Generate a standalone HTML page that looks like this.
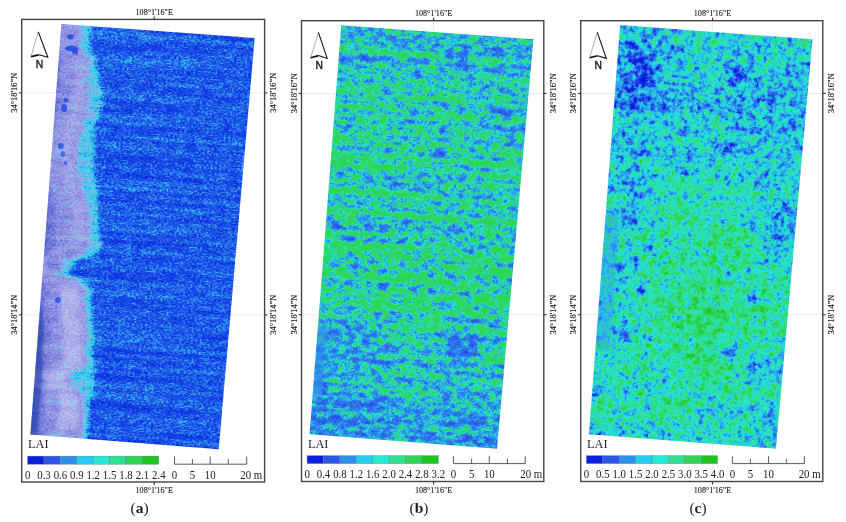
<!DOCTYPE html>
<html lang="en"><head><meta charset="utf-8"><title>LAI maps</title>
<style>html,body{margin:0;padding:0;background:#fff;}svg{display:block;}text{font-family:"Liberation Serif", "DejaVu Serif", serif;fill:#222;}.sans{font-family:"Liberation Sans", "DejaVu Sans", sans-serif;}</style>
</head><body>
<svg width="846" height="522" viewBox="0 0 846 522">
<rect width="846" height="522" fill="#fff"/>
<defs>
<clipPath id="clip_a"><polygon points="61.3,23.9 254.7,38.0 218.7,449.2 30.4,434.4"/></clipPath>
<clipPath id="clip_b"><polygon points="341.2,25.3 533.4,39.3 497.0,448.7 309.6,434.3"/></clipPath>
<clipPath id="clip_c"><polygon points="620.1,24.9 812.4,39.3 775.9,448.7 588.9,434.2"/></clipPath>
<filter id="f_a" filterUnits="userSpaceOnUse" x="-20" y="-20" width="250" height="460" color-interpolation-filters="sRGB"><feGaussianBlur in="SourceGraphic" stdDeviation="2.0" result="bias"/><feTurbulence type="fractalNoise" baseFrequency="0.006 0.20" numOctaves="1" seed="3" result="t0"/><feColorMatrix in="t0" type="matrix" values="1 0 0 0 0 1 0 0 0 0 1 0 0 0 0 0 0 0 0 1" result="n0"/><feComposite in="n0" in2="n0" operator="arithmetic" k1="0" k2="0.140" k3="0" k4="0.430" result="m0"/><feTurbulence type="fractalNoise" baseFrequency="0.09 0.16" numOctaves="2" seed="11" result="t1"/><feColorMatrix in="t1" type="matrix" values="1 0 0 0 0 1 0 0 0 0 1 0 0 0 0 0 0 0 0 1" result="n1"/><feComposite in="m0" in2="n1" operator="arithmetic" k1="0" k2="1" k3="0.110" k4="-0.055" result="m1"/><feTurbulence type="fractalNoise" baseFrequency="0.45 0.7" numOctaves="1" seed="5" result="t2"/><feColorMatrix in="t2" type="matrix" values="1 0 0 0 0 1 0 0 0 0 1 0 0 0 0 0 0 0 0 1" result="n2"/><feComposite in="m1" in2="n2" operator="arithmetic" k1="0" k2="1" k3="0.340" k4="-0.170" result="m2"/><feComposite in="bias" in2="m2" operator="arithmetic" k1="0" k2="1" k3="2" k4="-1" result="v"/><feColorMatrix in="v" type="matrix" values="1 0 0 0 0 1 0 0 0 0 1 0 0 0 0 0 0 0 0 1" result="vv"/><feComponentTransfer in="vv"><feFuncR type="table" tableValues="0.039 0.045 0.051 0.057 0.063 0.076 0.090 0.104 0.118 0.148 0.179 0.209 0.221 0.203 0.186 0.171 0.163 0.156 0.148 0.304 0.569 0.663 0.643 0.624 0.604 0.584 0.565 0.545 0.525 0.506 0.486 0.464 0.443 0.422 0.401 0.378 0.354 0.330 0.306 0.283 0.259"/><feFuncG type="table" tableValues="0.157 0.175 0.192 0.210 0.227 0.259 0.290 0.322 0.353 0.410 0.466 0.523 0.588 0.665 0.742 0.810 0.839 0.869 0.898 0.839 0.722 0.663 0.643 0.624 0.604 0.585 0.569 0.552 0.536 0.520 0.504 0.489 0.475 0.460 0.445 0.429 0.412 0.396 0.379 0.362 0.345"/><feFuncB type="table" tableValues="0.878 0.881 0.884 0.887 0.890 0.895 0.900 0.905 0.910 0.917 0.925 0.933 0.938 0.939 0.940 0.939 0.925 0.912 0.899 0.904 0.919 0.922 0.916 0.909 0.903 0.897 0.890 0.884 0.877 0.871 0.864 0.859 0.853 0.847 0.842 0.835 0.828 0.821 0.814 0.807 0.800"/></feComponentTransfer><feGaussianBlur stdDeviation="0.45"/></filter>
<filter id="f_b" filterUnits="userSpaceOnUse" x="-20" y="-20" width="250" height="460" color-interpolation-filters="sRGB"><feGaussianBlur in="SourceGraphic" stdDeviation="1.6" result="bias"/><feTurbulence type="fractalNoise" baseFrequency="0.008 0.17" numOctaves="1" seed="8" result="t0"/><feColorMatrix in="t0" type="matrix" values="1 0 0 0 0 1 0 0 0 0 1 0 0 0 0 0 0 0 0 1" result="n0"/><feComposite in="n0" in2="n0" operator="arithmetic" k1="0" k2="0.250" k3="0" k4="0.375" result="m0"/><feTurbulence type="fractalNoise" baseFrequency="0.07 0.12" numOctaves="1" seed="4" result="t1"/><feColorMatrix in="t1" type="matrix" values="1 0 0 0 0 1 0 0 0 0 1 0 0 0 0 0 0 0 0 1" result="n1"/><feComposite in="m0" in2="n1" operator="arithmetic" k1="0" k2="1" k3="0.250" k4="-0.125" result="m1"/><feTurbulence type="fractalNoise" baseFrequency="0.13 0.19" numOctaves="2" seed="21" result="t2"/><feColorMatrix in="t2" type="matrix" values="1 0 0 0 0 1 0 0 0 0 1 0 0 0 0 0 0 0 0 1" result="n2"/><feComposite in="m1" in2="n2" operator="arithmetic" k1="0" k2="1" k3="0.450" k4="-0.225" result="m2"/><feTurbulence type="fractalNoise" baseFrequency="0.5 0.65" numOctaves="1" seed="9" result="t3"/><feColorMatrix in="t3" type="matrix" values="1 0 0 0 0 1 0 0 0 0 1 0 0 0 0 0 0 0 0 1" result="n3"/><feComposite in="m2" in2="n3" operator="arithmetic" k1="0" k2="1" k3="0.425" k4="-0.212" result="m3"/><feComposite in="bias" in2="m3" operator="arithmetic" k1="0" k2="1" k3="2" k4="-1" result="v"/><feColorMatrix in="v" type="matrix" values="1 0 0 0 0 1 0 0 0 0 1 0 0 0 0 0 0 0 0 1" result="vv"/><feComponentTransfer in="vv"><feFuncR type="table" tableValues="0.149 0.154 0.158 0.163 0.167 0.172 0.176 0.177 0.178 0.178 0.179 0.180 0.180 0.180 0.180 0.180 0.180 0.161 0.141 0.137 0.143 0.156 0.174 0.188 0.186 0.183 0.181 0.180 0.179 0.179 0.178 0.178 0.177 0.177 0.176 0.175 0.175 0.174 0.174 0.173 0.173"/><feFuncG type="table" tableValues="0.298 0.315 0.332 0.349 0.366 0.383 0.400 0.417 0.434 0.451 0.468 0.485 0.502 0.529 0.557 0.584 0.612 0.692 0.772 0.836 0.889 0.902 0.889 0.876 0.867 0.857 0.847 0.843 0.842 0.842 0.841 0.840 0.840 0.839 0.839 0.838 0.838 0.837 0.836 0.836 0.835"/><feFuncB type="table" tableValues="0.906 0.907 0.908 0.910 0.911 0.912 0.914 0.915 0.916 0.918 0.919 0.920 0.922 0.924 0.925 0.927 0.929 0.934 0.939 0.909 0.856 0.767 0.652 0.550 0.494 0.439 0.383 0.360 0.358 0.356 0.354 0.351 0.349 0.347 0.345 0.343 0.341 0.339 0.337 0.335 0.333"/></feComponentTransfer><feGaussianBlur stdDeviation="0.45"/></filter>
<filter id="f_c" filterUnits="userSpaceOnUse" x="-20" y="-20" width="250" height="460" color-interpolation-filters="sRGB"><feGaussianBlur in="SourceGraphic" stdDeviation="2.5" result="bias"/><feTurbulence type="fractalNoise" baseFrequency="0.020 0.06" numOctaves="1" seed="14" result="t0"/><feColorMatrix in="t0" type="matrix" values="1 0 0 0 0 1 0 0 0 0 1 0 0 0 0 0 0 0 0 1" result="n0"/><feComposite in="n0" in2="n0" operator="arithmetic" k1="0" k2="0.200" k3="0" k4="0.400" result="m0"/><feTurbulence type="fractalNoise" baseFrequency="0.13 0.13" numOctaves="2" seed="2" result="t1"/><feColorMatrix in="t1" type="matrix" values="1 0 0 0 0 1 0 0 0 0 1 0 0 0 0 0 0 0 0 1" result="n1"/><feComposite in="m0" in2="n1" operator="arithmetic" k1="0" k2="1" k3="0.450" k4="-0.225" result="m1"/><feTurbulence type="fractalNoise" baseFrequency="0.3 0.3" numOctaves="1" seed="17" result="t2"/><feColorMatrix in="t2" type="matrix" values="1 0 0 0 0 1 0 0 0 0 1 0 0 0 0 0 0 0 0 1" result="n2"/><feComposite in="m1" in2="n2" operator="arithmetic" k1="0" k2="1" k3="0.350" k4="-0.175" result="m2"/><feTurbulence type="fractalNoise" baseFrequency="0.8 0.8" numOctaves="1" seed="7" result="t3"/><feColorMatrix in="t3" type="matrix" values="1 0 0 0 0 1 0 0 0 0 1 0 0 0 0 0 0 0 0 1" result="n3"/><feComposite in="m2" in2="n3" operator="arithmetic" k1="0" k2="1" k3="0.350" k4="-0.175" result="m3"/><feComposite in="bias" in2="m3" operator="arithmetic" k1="0" k2="1" k3="2" k4="-1" result="v"/><feColorMatrix in="v" type="matrix" values="1 0 0 0 0 1 0 0 0 0 1 0 0 0 0 0 0 0 0 1" result="vv"/><feComponentTransfer in="vv"><feFuncR type="table" tableValues="0.039 0.039 0.067 0.101 0.135 0.170 0.177 0.178 0.178 0.179 0.180 0.178 0.168 0.157 0.146 0.135 0.136 0.139 0.142 0.145 0.151 0.159 0.167 0.174 0.182 0.188 0.188 0.188 0.188 0.188 0.188 0.188 0.182 0.174 0.166 0.158 0.150 0.142 0.134 0.126 0.118"/><feFuncG type="table" tableValues="0.118 0.118 0.161 0.215 0.269 0.323 0.366 0.406 0.447 0.488 0.528 0.572 0.627 0.682 0.738 0.793 0.825 0.852 0.878 0.905 0.905 0.900 0.894 0.889 0.883 0.877 0.870 0.864 0.857 0.850 0.843 0.837 0.829 0.822 0.814 0.807 0.799 0.791 0.784 0.776 0.769"/><feFuncB type="table" tableValues="0.878 0.878 0.885 0.893 0.900 0.908 0.911 0.914 0.916 0.918 0.920 0.922 0.927 0.931 0.936 0.940 0.920 0.894 0.867 0.841 0.796 0.747 0.698 0.649 0.600 0.554 0.520 0.487 0.453 0.419 0.386 0.352 0.324 0.299 0.273 0.247 0.221 0.195 0.169 0.143 0.118"/></feComponentTransfer><feGaussianBlur stdDeviation="0.45"/></filter>
<filter id="blur_g" filterUnits="userSpaceOnUse" x="-40" y="-40" width="290" height="500" color-interpolation-filters="sRGB"><feGaussianBlur stdDeviation="10"/></filter>
<filter id="soft"><feGaussianBlur stdDeviation="1.2"/></filter>
<filter id="soft2" x="-30%" y="-30%" width="160%" height="160%"><feGaussianBlur stdDeviation="0.7"/></filter>
<filter id="soft3" x="-30%" y="-10%" width="160%" height="120%"><feGaussianBlur stdDeviation="2.5"/></filter>
</defs>
<g stroke="#bdbdbd" stroke-opacity="0.30" stroke-width="0.7"><line x1="154.2" y1="19.4" x2="154.2" y2="482.0"/><line x1="21.7" y1="92.9" x2="264.6" y2="92.9"/><line x1="21.7" y1="314.9" x2="264.6" y2="314.9"/></g>
<g stroke="#bdbdbd" stroke-opacity="0.30" stroke-width="0.7"><line x1="433.6" y1="20.7" x2="433.6" y2="481.5"/><line x1="301.5" y1="93.4" x2="543.8" y2="93.4"/><line x1="301.5" y1="314.7" x2="543.8" y2="314.7"/></g>
<g stroke="#bdbdbd" stroke-opacity="0.30" stroke-width="0.7"><line x1="712.5" y1="20.7" x2="712.5" y2="481.5"/><line x1="580.7" y1="93.4" x2="822.8" y2="93.4"/><line x1="580.7" y1="314.7" x2="822.8" y2="314.7"/></g>
<g clip-path="url(#clip_a)"><g transform="matrix(0.9969 0.0727 -0.0752 0.9988 61.30 23.90)"><g filter="url(#f_a)"><rect x="-20" y="-20" width="250" height="460" fill="rgb(46,46,46)"/><polygon points="-62.2,-9.4 28.3,-6.0 31.2,5.8 26.6,11.2 30.0,15.9 29.4,22.0 35.0,28.6 36.8,39.5 40.5,48.2 43.0,58.0 45.7,67.9 47.4,77.7 43.7,88.0 41.5,98.2 40.1,108.3 41.6,123.2 43.5,135.1 43.7,148.1 47.8,162.8 48.6,172.8 50.7,187.6 51.8,202.6 57.5,217.2 53.2,224.5 46.6,229.0 31.4,234.1 25.4,249.6 42.1,253.3 47.6,259.0 50.6,272.8 53.1,292.6 55.2,307.5 56.4,322.4 57.6,338.3 59.3,344.2 58.2,357.3 57.8,362.3 56.9,372.4 56.7,387.5 56.4,402.5 56.9,412.5 -29.2,428.7" fill="rgb(115,115,115)"/><polygon points="-62.2,-9.4 18.4,-5.2 21.3,6.6 16.6,11.9 20.0,16.7 19.5,22.7 30.0,29.0 31.8,39.8 30.5,48.9 32.2,58.8 32.0,68.9 33.7,78.7 32.5,88.8 30.2,99.0 26.0,109.3 24.1,124.5 26.0,136.4 30.0,149.1 34.1,163.8 39.9,173.4 42.0,188.3 43.1,203.2 45.2,218.1 40.8,225.4 34.1,229.9 19.4,235.0 18.6,250.1 35.9,253.8 41.3,259.4 44.4,273.2 46.9,293.0 49.0,307.9 50.1,322.8 51.3,338.8 36.8,345.8 35.8,358.9 46.1,363.2 50.9,372.9 51.0,387.9 51.1,402.9 51.9,412.8 -29.2,428.7" fill="rgb(163,163,163)"/><polygon points="-62.2,-9.4 -8.2,-3.3 -5.7,8.5 -10.5,13.9 -7.3,18.7 -8.0,24.7 2.3,31.0 3.8,41.9 2.2,51.0 3.6,60.9 3.0,71.0 4.5,80.9 2.9,91.0 0.3,101.2 -4.2,111.5 -6.6,126.7 -5.0,138.6 -1.5,151.4 2.2,166.1 7.6,175.8 9.2,190.7 9.9,205.6 11.5,220.5 6.8,227.9 0.0,232.4 -14.8,237.5 -16.1,252.6 1.1,256.3 6.3,262.0 8.9,275.8 10.8,295.7 12.4,310.6 13.1,325.5 13.8,341.5 -0.9,348.6 -2.4,361.7 7.8,366.0 12.3,375.7 11.9,390.7 11.6,405.8 12.0,415.7 -29.2,428.7" fill="rgb(204,204,204)"/><polygon points="-62.2,-9.4 -16.3,-2.7 -13.8,9.1 -18.6,14.5 -15.4,19.2 -16.2,25.3 -5.9,31.6 -4.5,42.5 -6.2,51.6 -4.8,61.5 -5.4,71.6 -4.0,81.5 -5.6,91.6 -8.2,101.8 -12.8,112.2 -15.2,127.4 -13.8,139.3 -10.3,152.0 -6.7,166.8 -1.3,176.4 0.3,191.3 0.8,206.3 2.4,221.2 -2.3,228.5 -9.1,233.0 -23.9,238.1 -25.3,253.2 -8.2,257.0 -3.0,262.6 -0.4,276.5 1.3,296.4 2.9,311.3 3.5,326.2 4.1,342.2 -10.6,349.3 -12.1,362.4 -1.9,366.7 2.5,376.4 2.0,391.4 1.6,406.5 2.0,416.5 -29.2,428.7" fill="rgb(235,235,235)"/><ellipse cx="15.8" cy="97.6" rx="4.5" ry="3.8" fill="rgb(140,140,140)" fill-opacity="0.70"/><ellipse cx="11.9" cy="248.8" rx="4.9" ry="3.7" fill="rgb(148,148,148)" fill-opacity="0.70"/><ellipse cx="24.5" cy="408.0" rx="6.3" ry="3.4" fill="rgb(148,148,148)" fill-opacity="0.70"/><ellipse cx="8.7" cy="95.7" rx="6.7" ry="3.2" fill="rgb(140,140,140)" fill-opacity="0.70"/><ellipse cx="8.1" cy="276.1" rx="6.0" ry="3.8" fill="rgb(191,191,191)" fill-opacity="0.70"/><ellipse cx="37.1" cy="318.6" rx="4.1" ry="3.8" fill="rgb(204,204,204)" fill-opacity="0.70"/><ellipse cx="38.0" cy="291.5" rx="4.6" ry="4.4" fill="rgb(204,204,204)" fill-opacity="0.70"/><ellipse cx="11.1" cy="396.1" rx="4.5" ry="2.1" fill="rgb(204,204,204)" fill-opacity="0.70"/><ellipse cx="25.7" cy="88.3" rx="4.7" ry="3.9" fill="rgb(191,191,191)" fill-opacity="0.70"/><ellipse cx="29.1" cy="171.9" rx="5.3" ry="3.6" fill="rgb(204,204,204)" fill-opacity="0.70"/><ellipse cx="11.2" cy="240.1" rx="5.7" ry="4.8" fill="rgb(191,191,191)" fill-opacity="0.70"/><ellipse cx="32.3" cy="405.5" rx="3.7" ry="4.6" fill="rgb(140,140,140)" fill-opacity="0.70"/><ellipse cx="13.3" cy="293.2" rx="6.3" ry="3.7" fill="rgb(191,191,191)" fill-opacity="0.70"/><ellipse cx="15.4" cy="51.1" rx="5.6" ry="3.5" fill="rgb(191,191,191)" fill-opacity="0.70"/><ellipse cx="21.7" cy="328.2" rx="3.6" ry="2.9" fill="rgb(204,204,204)" fill-opacity="0.70"/><ellipse cx="7.0" cy="358.9" rx="5.5" ry="2.1" fill="rgb(191,191,191)" fill-opacity="0.70"/><ellipse cx="32.5" cy="224.9" rx="4.1" ry="2.7" fill="rgb(140,140,140)" fill-opacity="0.70"/><ellipse cx="7.0" cy="127.7" rx="5.4" ry="2.1" fill="rgb(148,148,148)" fill-opacity="0.70"/><ellipse cx="17.3" cy="398.6" rx="4.1" ry="4.1" fill="rgb(191,191,191)" fill-opacity="0.70"/><ellipse cx="18.9" cy="128.6" rx="6.6" ry="3.1" fill="rgb(204,204,204)" fill-opacity="0.70"/><ellipse cx="15.1" cy="357.1" rx="6.5" ry="4.0" fill="rgb(140,140,140)" fill-opacity="0.70"/><ellipse cx="28.4" cy="253.6" rx="5.0" ry="3.3" fill="rgb(148,148,148)" fill-opacity="0.70"/><ellipse cx="22.9" cy="383.8" rx="4.0" ry="2.9" fill="rgb(191,191,191)" fill-opacity="0.70"/><ellipse cx="9.8" cy="5.1" rx="5.3" ry="2.1" fill="rgb(148,148,148)" fill-opacity="0.70"/><ellipse cx="17.0" cy="24.5" rx="4.9" ry="4.0" fill="rgb(191,191,191)" fill-opacity="0.70"/><ellipse cx="7.8" cy="250.5" rx="5.0" ry="3.8" fill="rgb(140,140,140)" fill-opacity="0.70"/><ellipse cx="15.6" cy="395.4" rx="4.8" ry="3.8" fill="rgb(191,191,191)" fill-opacity="0.70"/><ellipse cx="9.9" cy="73.2" rx="6.0" ry="4.5" fill="rgb(191,191,191)" fill-opacity="0.70"/><ellipse cx="10.5" cy="123.7" rx="6.1" ry="2.1" fill="rgb(148,148,148)" fill-opacity="0.70"/><ellipse cx="8.9" cy="127.7" rx="6.2" ry="2.7" fill="rgb(148,148,148)" fill-opacity="0.70"/><ellipse cx="27.8" cy="277.4" rx="3.4" ry="3.8" fill="rgb(191,191,191)" fill-opacity="0.70"/><ellipse cx="13.5" cy="277.2" rx="6.2" ry="4.9" fill="rgb(140,140,140)" fill-opacity="0.70"/><ellipse cx="17.1" cy="138.1" rx="6.5" ry="3.4" fill="rgb(148,148,148)" fill-opacity="0.70"/><ellipse cx="7.3" cy="323.6" rx="6.8" ry="2.9" fill="rgb(148,148,148)" fill-opacity="0.70"/><ellipse cx="13.9" cy="354.6" rx="6.3" ry="2.3" fill="rgb(191,191,191)" fill-opacity="0.70"/><ellipse cx="8.5" cy="242.5" rx="5.1" ry="4.5" fill="rgb(204,204,204)" fill-opacity="0.70"/><ellipse cx="13.3" cy="142.3" rx="4.7" ry="3.2" fill="rgb(204,204,204)" fill-opacity="0.70"/><ellipse cx="6.1" cy="64.7" rx="6.8" ry="4.6" fill="rgb(204,204,204)" fill-opacity="0.70"/><ellipse cx="27.7" cy="228.5" rx="5.9" ry="2.1" fill="rgb(204,204,204)" fill-opacity="0.70"/><ellipse cx="22.3" cy="342.9" rx="5.1" ry="2.9" fill="rgb(191,191,191)" fill-opacity="0.70"/></g></g><ellipse cx="70.5" cy="36.8" rx="3.2" ry="2.6" fill="rgb(25,70,229)" fill-opacity="0.8" filter="url(#soft2)"/><ellipse cx="71.5" cy="48.5" rx="6.5" ry="3.0" fill="rgb(25,70,229)" fill-opacity="0.8" filter="url(#soft2)"/><ellipse cx="66.0" cy="100.0" rx="2.6" ry="2.0" fill="rgb(25,70,229)" fill-opacity="0.8" filter="url(#soft2)"/><ellipse cx="64.0" cy="108.0" rx="3.0" ry="4.0" fill="rgb(25,70,229)" fill-opacity="0.8" filter="url(#soft2)"/><ellipse cx="61.0" cy="146.0" rx="3.0" ry="3.0" fill="rgb(25,70,229)" fill-opacity="0.8" filter="url(#soft2)"/><ellipse cx="63.0" cy="154.0" rx="2.2" ry="3.0" fill="rgb(25,70,229)" fill-opacity="0.8" filter="url(#soft2)"/><ellipse cx="65.5" cy="163.0" rx="2.0" ry="2.0" fill="rgb(25,70,229)" fill-opacity="0.8" filter="url(#soft2)"/><ellipse cx="58.0" cy="300.0" rx="3.0" ry="3.0" fill="rgb(25,70,229)" fill-opacity="0.8" filter="url(#soft2)"/><ellipse cx="75.0" cy="52.0" rx="3.0" ry="2.5" fill="rgb(25,70,229)" fill-opacity="0.8" filter="url(#soft2)"/><polygon points="78.0,286.0 80.0,300.0 81.0,320.0 82.0,335.0 82.0,350.0 82.0,366.0 67.0,372.0 65.0,385.0 75.0,390.0 79.0,400.0 78.0,415.0 77.0,430.0 58.0,430.0 59.0,415.0 60.0,400.0 56.0,390.0 46.0,385.0 48.0,372.0 63.0,366.0 63.0,350.0 63.0,335.0 62.0,320.0 61.0,300.0 59.0,286.0" fill="#fff" fill-opacity="0.28" filter="url(#soft3)"/><polygon points="85.0,55.0 86.0,66.0 84.0,75.0 85.0,85.0 84.0,95.0 85.0,105.0 83.0,115.0 80.0,125.0 75.0,135.0 72.0,150.0 73.0,162.0 76.0,175.0 79.0,190.0 84.0,200.0 85.0,215.0 85.0,230.0 86.0,245.0 74.0,245.0 73.0,230.0 73.0,215.0 72.0,200.0 67.0,190.0 64.0,175.0 61.0,162.0 60.0,150.0 63.0,135.0 68.0,125.0 71.0,115.0 73.0,105.0 72.0,95.0 73.0,85.0 72.0,75.0 74.0,66.0 73.0,55.0" fill="#fff" fill-opacity="0.14" filter="url(#soft3)"/><polygon points="41,300 43.5,330 42,380 37.5,436 28,436" fill="rgb(30,60,165)" fill-opacity="0.6" filter="url(#soft)"/></g>
<g clip-path="url(#clip_b)"><g transform="matrix(0.9907 0.0722 -0.0769 0.9951 341.20 25.30)"><g filter="url(#f_b)"><g filter="url(#blur_g)"><rect x="-40" y="-40" width="290" height="500" fill="rgb(112,112,112)"/><rect x="-30.0" y="-30.0" width="70.5" height="72.1" fill="rgb(112,112,112)"/><rect x="40.0" y="-30.0" width="40.5" height="72.1" fill="rgb(107,107,107)"/><rect x="80.0" y="-30.0" width="40.5" height="72.1" fill="rgb(107,107,107)"/><rect x="120.0" y="-30.0" width="40.5" height="72.1" fill="rgb(107,107,107)"/><rect x="160.0" y="-30.0" width="70.5" height="72.1" fill="rgb(107,107,107)"/><rect x="-30.0" y="41.6" width="70.5" height="42.1" fill="rgb(133,133,133)"/><rect x="40.0" y="41.6" width="40.5" height="42.1" fill="rgb(128,128,128)"/><rect x="80.0" y="41.6" width="40.5" height="42.1" fill="rgb(128,128,128)"/><rect x="120.0" y="41.6" width="40.5" height="42.1" fill="rgb(120,120,120)"/><rect x="160.0" y="41.6" width="70.5" height="42.1" fill="rgb(120,120,120)"/><rect x="-30.0" y="83.2" width="70.5" height="42.1" fill="rgb(140,140,140)"/><rect x="40.0" y="83.2" width="40.5" height="42.1" fill="rgb(135,135,135)"/><rect x="80.0" y="83.2" width="40.5" height="42.1" fill="rgb(128,128,128)"/><rect x="120.0" y="83.2" width="40.5" height="42.1" fill="rgb(128,128,128)"/><rect x="160.0" y="83.2" width="70.5" height="42.1" fill="rgb(117,117,117)"/><rect x="-30.0" y="124.8" width="70.5" height="42.1" fill="rgb(135,135,135)"/><rect x="40.0" y="124.8" width="40.5" height="42.1" fill="rgb(133,133,133)"/><rect x="80.0" y="124.8" width="40.5" height="42.1" fill="rgb(128,128,128)"/><rect x="120.0" y="124.8" width="40.5" height="42.1" fill="rgb(122,122,122)"/><rect x="160.0" y="124.8" width="70.5" height="42.1" fill="rgb(120,120,120)"/><rect x="-30.0" y="166.4" width="70.5" height="42.1" fill="rgb(128,128,128)"/><rect x="40.0" y="166.4" width="40.5" height="42.1" fill="rgb(128,128,128)"/><rect x="80.0" y="166.4" width="40.5" height="42.1" fill="rgb(128,128,128)"/><rect x="120.0" y="166.4" width="40.5" height="42.1" fill="rgb(128,128,128)"/><rect x="160.0" y="166.4" width="70.5" height="42.1" fill="rgb(128,128,128)"/><rect x="-30.0" y="208.0" width="70.5" height="42.1" fill="rgb(158,158,158)"/><rect x="40.0" y="208.0" width="40.5" height="42.1" fill="rgb(163,163,163)"/><rect x="80.0" y="208.0" width="40.5" height="42.1" fill="rgb(161,161,161)"/><rect x="120.0" y="208.0" width="40.5" height="42.1" fill="rgb(166,166,166)"/><rect x="160.0" y="208.0" width="70.5" height="42.1" fill="rgb(166,166,166)"/><rect x="-30.0" y="249.6" width="70.5" height="42.1" fill="rgb(148,148,148)"/><rect x="40.0" y="249.6" width="40.5" height="42.1" fill="rgb(158,158,158)"/><rect x="80.0" y="249.6" width="40.5" height="42.1" fill="rgb(163,163,163)"/><rect x="120.0" y="249.6" width="40.5" height="42.1" fill="rgb(168,168,168)"/><rect x="160.0" y="249.6" width="70.5" height="42.1" fill="rgb(163,163,163)"/><rect x="-30.0" y="291.2" width="70.5" height="42.1" fill="rgb(102,102,102)"/><rect x="40.0" y="291.2" width="40.5" height="42.1" fill="rgb(117,117,117)"/><rect x="80.0" y="291.2" width="40.5" height="42.1" fill="rgb(140,140,140)"/><rect x="120.0" y="291.2" width="40.5" height="42.1" fill="rgb(117,117,117)"/><rect x="160.0" y="291.2" width="70.5" height="42.1" fill="rgb(138,138,138)"/><rect x="-30.0" y="332.8" width="70.5" height="42.1" fill="rgb(94,94,94)"/><rect x="40.0" y="332.8" width="40.5" height="42.1" fill="rgb(107,107,107)"/><rect x="80.0" y="332.8" width="40.5" height="42.1" fill="rgb(125,125,125)"/><rect x="120.0" y="332.8" width="40.5" height="42.1" fill="rgb(112,112,112)"/><rect x="160.0" y="332.8" width="70.5" height="42.1" fill="rgb(120,120,120)"/><rect x="-30.0" y="374.4" width="70.5" height="72.1" fill="rgb(79,79,79)"/><rect x="40.0" y="374.4" width="40.5" height="72.1" fill="rgb(84,84,84)"/><rect x="80.0" y="374.4" width="40.5" height="72.1" fill="rgb(94,94,94)"/><rect x="120.0" y="374.4" width="40.5" height="72.1" fill="rgb(99,99,99)"/><rect x="160.0" y="374.4" width="70.5" height="72.1" fill="rgb(94,94,94)"/></g><rect x="-5.0" y="20.1" width="106.1" height="6.4" fill="#fff" fill-opacity="0.42"/><rect x="129.1" y="20.4" width="52.6" height="5.6" fill="#fff" fill-opacity="0.44"/><rect x="189.6" y="19.6" width="92.2" height="5.4" fill="#fff" fill-opacity="0.30"/><rect x="94.3" y="39.8" width="64.4" height="5.5" fill="#fff" fill-opacity="0.32"/><rect x="163.7" y="39.9" width="128.4" height="6.5" fill="#fff" fill-opacity="0.44"/><rect x="-5.0" y="63.9" width="136.5" height="4.5" fill="#fff" fill-opacity="0.45"/><rect x="-5.0" y="78.8" width="82.5" height="4.2" fill="#fff" fill-opacity="0.35"/><rect x="97.6" y="79.2" width="50.3" height="4.8" fill="#fff" fill-opacity="0.43"/><rect x="164.9" y="79.9" width="78.4" height="4.1" fill="#fff" fill-opacity="0.46"/><rect x="117.9" y="98.7" width="120.9" height="4.0" fill="#fff" fill-opacity="0.31"/><rect x="-5.0" y="112.0" width="136.0" height="6.3" fill="#fff" fill-opacity="0.45"/><rect x="144.6" y="112.1" width="81.9" height="4.3" fill="#fff" fill-opacity="0.42"/><rect x="-5.0" y="126.4" width="127.4" height="4.2" fill="#fff" fill-opacity="0.35"/><rect x="142.6" y="126.3" width="132.6" height="5.4" fill="#fff" fill-opacity="0.35"/><rect x="-5.0" y="135.8" width="66.0" height="5.7" fill="#fff" fill-opacity="0.46"/><rect x="142.7" y="136.7" width="86.5" height="6.1" fill="#fff" fill-opacity="0.37"/><rect x="-5.0" y="161.4" width="120.9" height="4.4" fill="#fff" fill-opacity="0.44"/><rect x="-5.0" y="182.5" width="137.8" height="5.8" fill="#fff" fill-opacity="0.38"/><rect x="145.1" y="182.3" width="86.3" height="6.5" fill="#fff" fill-opacity="0.45"/><rect x="6.0" y="194.8" width="8.4" height="7.3" fill="#000" fill-opacity="0.57"/><rect x="40.1" y="196.5" width="10.8" height="6.1" fill="#000" fill-opacity="0.53"/><rect x="54.6" y="196.8" width="10.5" height="5.9" fill="#000" fill-opacity="0.59"/><rect x="72.6" y="194.5" width="9.7" height="5.8" fill="#000" fill-opacity="0.52"/><rect x="120.9" y="196.7" width="11.1" height="6.1" fill="#000" fill-opacity="0.56"/><rect x="139.5" y="197.4" width="11.8" height="6.6" fill="#000" fill-opacity="0.48"/><rect x="172.7" y="196.6" width="10.6" height="7.2" fill="#000" fill-opacity="0.39"/><rect x="188.6" y="196.5" width="9.1" height="6.9" fill="#000" fill-opacity="0.54"/><rect x="20.6" y="210.3" width="10.3" height="5.7" fill="#000" fill-opacity="0.52"/><rect x="39.5" y="210.4" width="8.1" height="5.2" fill="#000" fill-opacity="0.38"/><rect x="54.8" y="209.6" width="7.2" height="6.4" fill="#000" fill-opacity="0.45"/><rect x="72.4" y="209.7" width="11.5" height="5.0" fill="#000" fill-opacity="0.45"/><rect x="87.6" y="209.3" width="11.2" height="6.1" fill="#000" fill-opacity="0.36"/><rect x="105.5" y="210.6" width="8.7" height="6.7" fill="#000" fill-opacity="0.59"/><rect x="122.8" y="211.4" width="10.2" height="6.1" fill="#000" fill-opacity="0.39"/><rect x="138.4" y="211.9" width="11.8" height="6.8" fill="#000" fill-opacity="0.44"/><rect x="156.1" y="209.3" width="9.8" height="6.8" fill="#000" fill-opacity="0.39"/><rect x="187.0" y="209.7" width="8.5" height="7.9" fill="#000" fill-opacity="0.44"/><rect x="22.9" y="226.4" width="9.5" height="6.2" fill="#000" fill-opacity="0.43"/><rect x="40.9" y="224.4" width="9.4" height="5.4" fill="#000" fill-opacity="0.51"/><rect x="55.3" y="225.8" width="11.1" height="5.0" fill="#000" fill-opacity="0.48"/><rect x="89.6" y="224.3" width="7.8" height="8.0" fill="#000" fill-opacity="0.42"/><rect x="105.4" y="225.4" width="10.0" height="7.2" fill="#000" fill-opacity="0.38"/><rect x="122.5" y="225.1" width="8.7" height="5.9" fill="#000" fill-opacity="0.48"/><rect x="137.9" y="225.7" width="10.0" height="5.1" fill="#000" fill-opacity="0.41"/><rect x="172.6" y="223.5" width="10.9" height="6.3" fill="#000" fill-opacity="0.49"/><rect x="188.3" y="224.9" width="11.6" height="6.2" fill="#000" fill-opacity="0.45"/><rect x="7.4" y="238.9" width="11.2" height="5.2" fill="#000" fill-opacity="0.56"/><rect x="23.3" y="238.9" width="10.9" height="7.7" fill="#000" fill-opacity="0.39"/><rect x="38.9" y="239.5" width="8.7" height="5.5" fill="#000" fill-opacity="0.50"/><rect x="56.7" y="238.7" width="11.1" height="7.4" fill="#000" fill-opacity="0.52"/><rect x="105.8" y="240.5" width="8.1" height="6.9" fill="#000" fill-opacity="0.59"/><rect x="122.3" y="238.9" width="11.6" height="5.4" fill="#000" fill-opacity="0.50"/><rect x="137.7" y="239.9" width="7.2" height="5.3" fill="#000" fill-opacity="0.44"/><rect x="152.8" y="239.7" width="10.7" height="7.6" fill="#000" fill-opacity="0.38"/><rect x="170.7" y="239.8" width="9.4" height="7.8" fill="#000" fill-opacity="0.44"/><rect x="185.7" y="238.5" width="10.2" height="6.5" fill="#000" fill-opacity="0.58"/><rect x="6.2" y="253.3" width="9.8" height="5.8" fill="#000" fill-opacity="0.54"/><rect x="22.6" y="253.2" width="8.9" height="7.2" fill="#000" fill-opacity="0.39"/><rect x="39.9" y="252.8" width="10.3" height="5.3" fill="#000" fill-opacity="0.38"/><rect x="55.9" y="255.1" width="9.4" height="6.0" fill="#000" fill-opacity="0.55"/><rect x="86.7" y="255.4" width="10.4" height="5.7" fill="#000" fill-opacity="0.38"/><rect x="106.9" y="255.0" width="7.7" height="6.9" fill="#000" fill-opacity="0.44"/><rect x="120.4" y="254.3" width="8.7" height="6.2" fill="#000" fill-opacity="0.38"/><rect x="139.3" y="254.9" width="9.2" height="7.6" fill="#000" fill-opacity="0.48"/><rect x="154.9" y="254.7" width="9.0" height="5.3" fill="#000" fill-opacity="0.36"/><rect x="169.8" y="255.2" width="9.4" height="7.3" fill="#000" fill-opacity="0.35"/><rect x="6.5" y="268.4" width="7.5" height="5.5" fill="#000" fill-opacity="0.39"/><rect x="22.0" y="269.6" width="7.8" height="5.8" fill="#000" fill-opacity="0.42"/><rect x="37.6" y="267.7" width="9.4" height="5.1" fill="#000" fill-opacity="0.58"/><rect x="72.8" y="268.4" width="11.7" height="5.4" fill="#000" fill-opacity="0.52"/><rect x="87.7" y="269.2" width="7.8" height="5.6" fill="#000" fill-opacity="0.36"/><rect x="103.9" y="268.2" width="11.9" height="6.1" fill="#000" fill-opacity="0.43"/><rect x="121.4" y="269.2" width="10.6" height="5.5" fill="#000" fill-opacity="0.41"/><rect x="155.1" y="269.9" width="7.0" height="5.2" fill="#000" fill-opacity="0.54"/><rect x="170.6" y="268.6" width="11.9" height="6.6" fill="#000" fill-opacity="0.44"/><rect x="185.9" y="269.7" width="9.5" height="7.8" fill="#000" fill-opacity="0.36"/><rect x="5.0" y="282.7" width="7.3" height="5.8" fill="#000" fill-opacity="0.45"/><rect x="21.7" y="281.6" width="11.9" height="5.5" fill="#000" fill-opacity="0.48"/><rect x="38.6" y="281.8" width="8.6" height="5.3" fill="#000" fill-opacity="0.49"/><rect x="57.2" y="284.1" width="8.1" height="5.1" fill="#000" fill-opacity="0.48"/><rect x="71.9" y="282.6" width="10.1" height="7.2" fill="#000" fill-opacity="0.58"/><rect x="87.7" y="284.0" width="8.1" height="5.3" fill="#000" fill-opacity="0.43"/><rect x="122.8" y="281.9" width="7.4" height="5.7" fill="#000" fill-opacity="0.37"/><rect x="137.7" y="282.2" width="7.3" height="7.1" fill="#000" fill-opacity="0.36"/><rect x="153.3" y="282.6" width="7.5" height="6.3" fill="#000" fill-opacity="0.43"/><rect x="172.0" y="284.2" width="10.3" height="7.3" fill="#000" fill-opacity="0.49"/><rect x="23.4" y="296.8" width="11.1" height="6.1" fill="#000" fill-opacity="0.38"/><rect x="37.3" y="296.8" width="10.4" height="5.9" fill="#000" fill-opacity="0.37"/><rect x="56.6" y="296.1" width="7.3" height="5.4" fill="#000" fill-opacity="0.44"/><rect x="88.9" y="297.3" width="8.8" height="6.0" fill="#000" fill-opacity="0.35"/><rect x="122.4" y="297.6" width="7.9" height="7.1" fill="#000" fill-opacity="0.46"/><rect x="153.0" y="298.7" width="9.3" height="6.3" fill="#000" fill-opacity="0.46"/><ellipse cx="20.3" cy="31.4" rx="5.2" ry="3.1" fill="rgb(51,51,51)" fill-opacity="0.75"/><ellipse cx="19.9" cy="30.4" rx="3.2" ry="3.2" fill="rgb(51,51,51)" fill-opacity="0.75"/><ellipse cx="20.2" cy="27.5" rx="3.0" ry="2.7" fill="rgb(51,51,51)" fill-opacity="0.75"/><ellipse cx="28.5" cy="32.8" rx="4.6" ry="2.2" fill="rgb(51,51,51)" fill-opacity="0.75"/><line x1="23.9" y1="30.5" x2="35.0" y2="29.5" stroke="rgb(51,51,51)" stroke-opacity="0.60" stroke-width="2.6" stroke-linecap="round"/><line x1="23.9" y1="30.5" x2="17.5" y2="23.3" stroke="rgb(51,51,51)" stroke-opacity="0.60" stroke-width="2.2" stroke-linecap="round"/><line x1="23.9" y1="30.5" x2="30.0" y2="37.8" stroke="rgb(51,51,51)" stroke-opacity="0.60" stroke-width="1.5" stroke-linecap="round"/><line x1="23.9" y1="30.5" x2="12.8" y2="29.0" stroke="rgb(51,51,51)" stroke-opacity="0.60" stroke-width="1.6" stroke-linecap="round"/><line x1="23.9" y1="30.5" x2="28.0" y2="38.7" stroke="rgb(51,51,51)" stroke-opacity="0.60" stroke-width="1.8" stroke-linecap="round"/><ellipse cx="54.0" cy="12.9" rx="3.5" ry="2.8" fill="rgb(51,51,51)" fill-opacity="0.75"/><ellipse cx="47.4" cy="12.3" rx="3.6" ry="2.5" fill="rgb(51,51,51)" fill-opacity="0.75"/><ellipse cx="49.6" cy="12.8" rx="4.8" ry="3.0" fill="rgb(51,51,51)" fill-opacity="0.75"/><line x1="51.2" y1="12.6" x2="56.6" y2="7.3" stroke="rgb(51,51,51)" stroke-opacity="0.60" stroke-width="2.3" stroke-linecap="round"/><line x1="51.2" y1="12.6" x2="47.3" y2="18.3" stroke="rgb(51,51,51)" stroke-opacity="0.60" stroke-width="1.8" stroke-linecap="round"/><line x1="51.2" y1="12.6" x2="48.8" y2="18.6" stroke="rgb(51,51,51)" stroke-opacity="0.60" stroke-width="1.6" stroke-linecap="round"/><line x1="51.2" y1="12.6" x2="52.3" y2="6.3" stroke="rgb(51,51,51)" stroke-opacity="0.60" stroke-width="1.9" stroke-linecap="round"/><line x1="51.2" y1="12.6" x2="56.9" y2="7.4" stroke="rgb(51,51,51)" stroke-opacity="0.60" stroke-width="1.9" stroke-linecap="round"/><ellipse cx="128.3" cy="27.5" rx="3.0" ry="3.3" fill="rgb(51,51,51)" fill-opacity="0.75"/><ellipse cx="125.1" cy="27.3" rx="5.9" ry="3.8" fill="rgb(51,51,51)" fill-opacity="0.75"/><ellipse cx="126.4" cy="30.9" rx="5.3" ry="3.4" fill="rgb(51,51,51)" fill-opacity="0.75"/><ellipse cx="124.3" cy="30.2" rx="5.9" ry="4.7" fill="rgb(51,51,51)" fill-opacity="0.75"/><ellipse cx="123.5" cy="30.1" rx="3.3" ry="2.9" fill="rgb(51,51,51)" fill-opacity="0.75"/><line x1="122.2" y1="29.0" x2="125.8" y2="18.3" stroke="rgb(51,51,51)" stroke-opacity="0.60" stroke-width="1.7" stroke-linecap="round"/><line x1="122.2" y1="29.0" x2="110.5" y2="24.9" stroke="rgb(51,51,51)" stroke-opacity="0.60" stroke-width="2.0" stroke-linecap="round"/><line x1="122.2" y1="29.0" x2="126.7" y2="39.5" stroke="rgb(51,51,51)" stroke-opacity="0.60" stroke-width="2.3" stroke-linecap="round"/><line x1="122.2" y1="29.0" x2="130.7" y2="37.3" stroke="rgb(51,51,51)" stroke-opacity="0.60" stroke-width="2.2" stroke-linecap="round"/><line x1="122.2" y1="29.0" x2="131.5" y2="36.5" stroke="rgb(51,51,51)" stroke-opacity="0.60" stroke-width="2.0" stroke-linecap="round"/><ellipse cx="159.2" cy="14.5" rx="5.3" ry="3.2" fill="rgb(51,51,51)" fill-opacity="0.75"/><ellipse cx="156.8" cy="17.1" rx="3.3" ry="2.5" fill="rgb(51,51,51)" fill-opacity="0.75"/><ellipse cx="161.4" cy="11.0" rx="3.0" ry="3.6" fill="rgb(51,51,51)" fill-opacity="0.75"/><ellipse cx="159.2" cy="14.4" rx="4.8" ry="2.4" fill="rgb(51,51,51)" fill-opacity="0.75"/><line x1="158.8" y1="13.3" x2="155.6" y2="20.5" stroke="rgb(51,51,51)" stroke-opacity="0.60" stroke-width="1.6" stroke-linecap="round"/><line x1="158.8" y1="13.3" x2="168.3" y2="17.3" stroke="rgb(51,51,51)" stroke-opacity="0.60" stroke-width="2.1" stroke-linecap="round"/><line x1="158.8" y1="13.3" x2="159.3" y2="20.8" stroke="rgb(51,51,51)" stroke-opacity="0.60" stroke-width="2.2" stroke-linecap="round"/><line x1="158.8" y1="13.3" x2="151.0" y2="18.7" stroke="rgb(51,51,51)" stroke-opacity="0.60" stroke-width="2.0" stroke-linecap="round"/><line x1="158.8" y1="13.3" x2="169.7" y2="11.4" stroke="rgb(51,51,51)" stroke-opacity="0.60" stroke-width="2.0" stroke-linecap="round"/><ellipse cx="163.6" cy="75.5" rx="3.5" ry="2.8" fill="rgb(51,51,51)" fill-opacity="0.75"/><ellipse cx="174.5" cy="75.2" rx="3.7" ry="2.9" fill="rgb(51,51,51)" fill-opacity="0.75"/><ellipse cx="168.9" cy="72.2" rx="3.6" ry="4.7" fill="rgb(51,51,51)" fill-opacity="0.75"/><ellipse cx="172.7" cy="75.4" rx="4.3" ry="2.6" fill="rgb(51,51,51)" fill-opacity="0.75"/><ellipse cx="176.4" cy="79.2" rx="3.7" ry="4.1" fill="rgb(51,51,51)" fill-opacity="0.75"/><line x1="169.4" y1="77.9" x2="168.8" y2="87.8" stroke="rgb(51,51,51)" stroke-opacity="0.60" stroke-width="2.4" stroke-linecap="round"/><line x1="169.4" y1="77.9" x2="159.1" y2="72.2" stroke="rgb(51,51,51)" stroke-opacity="0.60" stroke-width="1.8" stroke-linecap="round"/><line x1="169.4" y1="77.9" x2="175.0" y2="86.8" stroke="rgb(51,51,51)" stroke-opacity="0.60" stroke-width="2.3" stroke-linecap="round"/><line x1="169.4" y1="77.9" x2="180.7" y2="82.0" stroke="rgb(51,51,51)" stroke-opacity="0.60" stroke-width="1.8" stroke-linecap="round"/><line x1="169.4" y1="77.9" x2="157.7" y2="74.2" stroke="rgb(51,51,51)" stroke-opacity="0.60" stroke-width="2.4" stroke-linecap="round"/><ellipse cx="14.7" cy="96.6" rx="4.6" ry="2.5" fill="rgb(51,51,51)" fill-opacity="0.75"/><ellipse cx="17.6" cy="97.7" rx="3.5" ry="2.2" fill="rgb(51,51,51)" fill-opacity="0.75"/><ellipse cx="16.9" cy="99.3" rx="3.8" ry="2.4" fill="rgb(51,51,51)" fill-opacity="0.75"/><ellipse cx="12.5" cy="101.1" rx="4.8" ry="3.5" fill="rgb(51,51,51)" fill-opacity="0.75"/><line x1="15.9" y1="97.5" x2="12.3" y2="89.4" stroke="rgb(51,51,51)" stroke-opacity="0.60" stroke-width="2.1" stroke-linecap="round"/><line x1="15.9" y1="97.5" x2="22.3" y2="104.3" stroke="rgb(51,51,51)" stroke-opacity="0.60" stroke-width="1.5" stroke-linecap="round"/><line x1="15.9" y1="97.5" x2="25.9" y2="98.5" stroke="rgb(51,51,51)" stroke-opacity="0.60" stroke-width="2.5" stroke-linecap="round"/><line x1="15.9" y1="97.5" x2="12.9" y2="89.2" stroke="rgb(51,51,51)" stroke-opacity="0.60" stroke-width="2.6" stroke-linecap="round"/><line x1="15.9" y1="97.5" x2="25.9" y2="98.7" stroke="rgb(51,51,51)" stroke-opacity="0.60" stroke-width="2.2" stroke-linecap="round"/><ellipse cx="67.2" cy="98.4" rx="2.8" ry="3.0" fill="rgb(51,51,51)" fill-opacity="0.75"/><ellipse cx="73.6" cy="99.0" rx="3.6" ry="2.9" fill="rgb(51,51,51)" fill-opacity="0.75"/><ellipse cx="70.7" cy="95.4" rx="3.8" ry="2.9" fill="rgb(51,51,51)" fill-opacity="0.75"/><line x1="71.0" y1="98.1" x2="65.8" y2="103.1" stroke="rgb(51,51,51)" stroke-opacity="0.60" stroke-width="2.3" stroke-linecap="round"/><line x1="71.0" y1="98.1" x2="78.1" y2="94.4" stroke="rgb(51,51,51)" stroke-opacity="0.60" stroke-width="2.5" stroke-linecap="round"/><line x1="71.0" y1="98.1" x2="63.4" y2="101.2" stroke="rgb(51,51,51)" stroke-opacity="0.60" stroke-width="2.4" stroke-linecap="round"/><line x1="71.0" y1="98.1" x2="76.7" y2="93.3" stroke="rgb(51,51,51)" stroke-opacity="0.60" stroke-width="2.1" stroke-linecap="round"/><line x1="71.0" y1="98.1" x2="64.8" y2="93.6" stroke="rgb(51,51,51)" stroke-opacity="0.60" stroke-width="1.9" stroke-linecap="round"/><ellipse cx="108.6" cy="99.6" rx="1.6" ry="2.5" fill="rgb(51,51,51)" fill-opacity="0.75"/><ellipse cx="113.9" cy="100.6" rx="2.6" ry="2.1" fill="rgb(51,51,51)" fill-opacity="0.75"/><ellipse cx="110.4" cy="98.5" rx="2.2" ry="2.8" fill="rgb(51,51,51)" fill-opacity="0.75"/><line x1="110.6" y1="100.7" x2="116.0" y2="103.9" stroke="rgb(51,51,51)" stroke-opacity="0.60" stroke-width="2.3" stroke-linecap="round"/><line x1="110.6" y1="100.7" x2="116.7" y2="101.9" stroke="rgb(51,51,51)" stroke-opacity="0.60" stroke-width="2.2" stroke-linecap="round"/><line x1="110.6" y1="100.7" x2="104.4" y2="101.5" stroke="rgb(51,51,51)" stroke-opacity="0.60" stroke-width="1.8" stroke-linecap="round"/><line x1="110.6" y1="100.7" x2="108.6" y2="94.8" stroke="rgb(51,51,51)" stroke-opacity="0.60" stroke-width="2.0" stroke-linecap="round"/><line x1="110.6" y1="100.7" x2="105.9" y2="96.6" stroke="rgb(51,51,51)" stroke-opacity="0.60" stroke-width="2.5" stroke-linecap="round"/><ellipse cx="109.2" cy="122.5" rx="3.9" ry="3.0" fill="rgb(51,51,51)" fill-opacity="0.75"/><ellipse cx="109.6" cy="123.1" rx="5.7" ry="3.0" fill="rgb(51,51,51)" fill-opacity="0.75"/><ellipse cx="103.0" cy="123.8" rx="4.0" ry="3.0" fill="rgb(51,51,51)" fill-opacity="0.75"/><ellipse cx="110.3" cy="124.3" rx="5.4" ry="3.4" fill="rgb(51,51,51)" fill-opacity="0.75"/><line x1="109.2" y1="122.4" x2="118.4" y2="117.3" stroke="rgb(51,51,51)" stroke-opacity="0.60" stroke-width="1.9" stroke-linecap="round"/><line x1="109.2" y1="122.4" x2="98.4" y2="118.7" stroke="rgb(51,51,51)" stroke-opacity="0.60" stroke-width="1.8" stroke-linecap="round"/><line x1="109.2" y1="122.4" x2="117.4" y2="128.1" stroke="rgb(51,51,51)" stroke-opacity="0.60" stroke-width="2.0" stroke-linecap="round"/><line x1="109.2" y1="122.4" x2="115.7" y2="116.0" stroke="rgb(51,51,51)" stroke-opacity="0.60" stroke-width="2.4" stroke-linecap="round"/><line x1="109.2" y1="122.4" x2="106.2" y2="115.1" stroke="rgb(51,51,51)" stroke-opacity="0.60" stroke-width="2.5" stroke-linecap="round"/><ellipse cx="25.1" cy="120.2" rx="3.0" ry="2.3" fill="rgb(51,51,51)" fill-opacity="0.75"/><ellipse cx="25.7" cy="121.3" rx="3.4" ry="2.7" fill="rgb(51,51,51)" fill-opacity="0.75"/><ellipse cx="23.5" cy="122.9" rx="4.2" ry="2.6" fill="rgb(51,51,51)" fill-opacity="0.75"/><ellipse cx="25.4" cy="119.5" rx="3.9" ry="1.9" fill="rgb(51,51,51)" fill-opacity="0.75"/><line x1="25.2" y1="119.5" x2="23.0" y2="112.2" stroke="rgb(51,51,51)" stroke-opacity="0.60" stroke-width="2.1" stroke-linecap="round"/><line x1="25.2" y1="119.5" x2="22.0" y2="126.5" stroke="rgb(51,51,51)" stroke-opacity="0.60" stroke-width="2.4" stroke-linecap="round"/><line x1="25.2" y1="119.5" x2="33.9" y2="120.4" stroke="rgb(51,51,51)" stroke-opacity="0.60" stroke-width="1.6" stroke-linecap="round"/><line x1="25.2" y1="119.5" x2="16.8" y2="121.6" stroke="rgb(51,51,51)" stroke-opacity="0.60" stroke-width="1.5" stroke-linecap="round"/><line x1="25.2" y1="119.5" x2="29.4" y2="112.9" stroke="rgb(51,51,51)" stroke-opacity="0.60" stroke-width="1.8" stroke-linecap="round"/><ellipse cx="181.3" cy="39.5" rx="3.9" ry="2.2" fill="rgb(51,51,51)" fill-opacity="0.75"/><ellipse cx="178.4" cy="37.5" rx="4.3" ry="2.9" fill="rgb(51,51,51)" fill-opacity="0.75"/><ellipse cx="180.6" cy="38.6" rx="3.5" ry="1.8" fill="rgb(51,51,51)" fill-opacity="0.75"/><line x1="181.1" y1="39.3" x2="191.1" y2="39.7" stroke="rgb(51,51,51)" stroke-opacity="0.60" stroke-width="2.0" stroke-linecap="round"/><line x1="181.1" y1="39.3" x2="178.9" y2="33.2" stroke="rgb(51,51,51)" stroke-opacity="0.60" stroke-width="1.7" stroke-linecap="round"/><line x1="181.1" y1="39.3" x2="179.7" y2="45.5" stroke="rgb(51,51,51)" stroke-opacity="0.60" stroke-width="1.9" stroke-linecap="round"/><line x1="181.1" y1="39.3" x2="177.9" y2="33.4" stroke="rgb(51,51,51)" stroke-opacity="0.60" stroke-width="2.1" stroke-linecap="round"/><line x1="181.1" y1="39.3" x2="173.6" y2="35.2" stroke="rgb(51,51,51)" stroke-opacity="0.60" stroke-width="2.3" stroke-linecap="round"/><ellipse cx="137.4" cy="321.3" rx="8.6" ry="4.9" fill="rgb(51,51,51)" fill-opacity="0.75"/><ellipse cx="151.8" cy="312.5" rx="5.1" ry="6.5" fill="rgb(51,51,51)" fill-opacity="0.75"/><ellipse cx="137.2" cy="308.6" rx="6.2" ry="7.1" fill="rgb(51,51,51)" fill-opacity="0.75"/><ellipse cx="150.9" cy="309.7" rx="8.7" ry="6.6" fill="rgb(51,51,51)" fill-opacity="0.75"/><ellipse cx="143.1" cy="313.9" rx="7.7" ry="8.2" fill="rgb(51,51,51)" fill-opacity="0.75"/><ellipse cx="139.3" cy="309.5" rx="5.5" ry="8.5" fill="rgb(51,51,51)" fill-opacity="0.75"/><ellipse cx="155.3" cy="314.5" rx="6.9" ry="8.1" fill="rgb(51,51,51)" fill-opacity="0.75"/><ellipse cx="140.0" cy="325.1" rx="8.4" ry="6.1" fill="rgb(51,51,51)" fill-opacity="0.75"/><ellipse cx="148.7" cy="318.3" rx="7.0" ry="8.0" fill="rgb(51,51,51)" fill-opacity="0.75"/><line x1="144.4" y1="315.8" x2="125.7" y2="317.3" stroke="rgb(51,51,51)" stroke-opacity="0.60" stroke-width="1.5" stroke-linecap="round"/><line x1="144.4" y1="315.8" x2="151.2" y2="298.3" stroke="rgb(51,51,51)" stroke-opacity="0.60" stroke-width="1.6" stroke-linecap="round"/><line x1="144.4" y1="315.8" x2="150.2" y2="298.0" stroke="rgb(51,51,51)" stroke-opacity="0.60" stroke-width="1.7" stroke-linecap="round"/><line x1="144.4" y1="315.8" x2="134.9" y2="332.0" stroke="rgb(51,51,51)" stroke-opacity="0.60" stroke-width="2.4" stroke-linecap="round"/><line x1="144.4" y1="315.8" x2="156.3" y2="330.3" stroke="rgb(51,51,51)" stroke-opacity="0.60" stroke-width="1.7" stroke-linecap="round"/></g></g><polygon points="318,326 327.5,326 322.5,396 312.5,396" fill="rgb(46,140,235)" fill-opacity="0.6" filter="url(#soft)"/></g>
<g clip-path="url(#clip_c)"><g transform="matrix(0.9912 0.0742 -0.0759 0.9959 620.10 24.90)"><g filter="url(#f_c)"><g filter="url(#blur_g)"><rect x="-40" y="-40" width="290" height="500" fill="rgb(92,92,92)"/><rect x="-30.0" y="-30.0" width="70.5" height="72.1" fill="rgb(92,92,92)"/><rect x="40.0" y="-30.0" width="40.5" height="72.1" fill="rgb(99,99,99)"/><rect x="80.0" y="-30.0" width="40.5" height="72.1" fill="rgb(117,117,117)"/><rect x="120.0" y="-30.0" width="40.5" height="72.1" fill="rgb(112,112,112)"/><rect x="160.0" y="-30.0" width="70.5" height="72.1" fill="rgb(99,99,99)"/><rect x="-30.0" y="41.6" width="70.5" height="42.1" fill="rgb(66,66,66)"/><rect x="40.0" y="41.6" width="40.5" height="42.1" fill="rgb(89,89,89)"/><rect x="80.0" y="41.6" width="40.5" height="42.1" fill="rgb(107,107,107)"/><rect x="120.0" y="41.6" width="40.5" height="42.1" fill="rgb(94,94,94)"/><rect x="160.0" y="41.6" width="70.5" height="42.1" fill="rgb(94,94,94)"/><rect x="-30.0" y="83.2" width="70.5" height="42.1" fill="rgb(92,92,92)"/><rect x="40.0" y="83.2" width="40.5" height="42.1" fill="rgb(105,105,105)"/><rect x="80.0" y="83.2" width="40.5" height="42.1" fill="rgb(112,112,112)"/><rect x="120.0" y="83.2" width="40.5" height="42.1" fill="rgb(102,102,102)"/><rect x="160.0" y="83.2" width="70.5" height="42.1" fill="rgb(92,92,92)"/><rect x="-30.0" y="124.8" width="70.5" height="42.1" fill="rgb(112,112,112)"/><rect x="40.0" y="124.8" width="40.5" height="42.1" fill="rgb(117,117,117)"/><rect x="80.0" y="124.8" width="40.5" height="42.1" fill="rgb(122,122,122)"/><rect x="120.0" y="124.8" width="40.5" height="42.1" fill="rgb(115,115,115)"/><rect x="160.0" y="124.8" width="70.5" height="42.1" fill="rgb(102,102,102)"/><rect x="-30.0" y="166.4" width="70.5" height="42.1" fill="rgb(117,117,117)"/><rect x="40.0" y="166.4" width="40.5" height="42.1" fill="rgb(138,138,138)"/><rect x="80.0" y="166.4" width="40.5" height="42.1" fill="rgb(143,143,143)"/><rect x="120.0" y="166.4" width="40.5" height="42.1" fill="rgb(133,133,133)"/><rect x="160.0" y="166.4" width="70.5" height="42.1" fill="rgb(112,112,112)"/><rect x="-30.0" y="208.0" width="70.5" height="42.1" fill="rgb(120,120,120)"/><rect x="40.0" y="208.0" width="40.5" height="42.1" fill="rgb(148,148,148)"/><rect x="80.0" y="208.0" width="40.5" height="42.1" fill="rgb(156,156,156)"/><rect x="120.0" y="208.0" width="40.5" height="42.1" fill="rgb(145,145,145)"/><rect x="160.0" y="208.0" width="70.5" height="42.1" fill="rgb(125,125,125)"/><rect x="-30.0" y="249.6" width="70.5" height="42.1" fill="rgb(115,115,115)"/><rect x="40.0" y="249.6" width="40.5" height="42.1" fill="rgb(153,153,153)"/><rect x="80.0" y="249.6" width="40.5" height="42.1" fill="rgb(168,168,168)"/><rect x="120.0" y="249.6" width="40.5" height="42.1" fill="rgb(158,158,158)"/><rect x="160.0" y="249.6" width="70.5" height="42.1" fill="rgb(135,135,135)"/><rect x="-30.0" y="291.2" width="70.5" height="42.1" fill="rgb(115,115,115)"/><rect x="40.0" y="291.2" width="40.5" height="42.1" fill="rgb(150,150,150)"/><rect x="80.0" y="291.2" width="40.5" height="42.1" fill="rgb(171,171,171)"/><rect x="120.0" y="291.2" width="40.5" height="42.1" fill="rgb(153,153,153)"/><rect x="160.0" y="291.2" width="70.5" height="42.1" fill="rgb(135,135,135)"/><rect x="-30.0" y="332.8" width="70.5" height="42.1" fill="rgb(120,120,120)"/><rect x="40.0" y="332.8" width="40.5" height="42.1" fill="rgb(140,140,140)"/><rect x="80.0" y="332.8" width="40.5" height="42.1" fill="rgb(153,153,153)"/><rect x="120.0" y="332.8" width="40.5" height="42.1" fill="rgb(145,145,145)"/><rect x="160.0" y="332.8" width="70.5" height="42.1" fill="rgb(125,125,125)"/><rect x="-30.0" y="374.4" width="70.5" height="72.1" fill="rgb(128,128,128)"/><rect x="40.0" y="374.4" width="40.5" height="72.1" fill="rgb(120,120,120)"/><rect x="80.0" y="374.4" width="40.5" height="72.1" fill="rgb(130,130,130)"/><rect x="120.0" y="374.4" width="40.5" height="72.1" fill="rgb(122,122,122)"/><rect x="160.0" y="374.4" width="70.5" height="72.1" fill="rgb(110,110,110)"/></g><ellipse cx="17.6" cy="32.8" rx="7.2" ry="5.1" fill="rgb(20,20,20)" fill-opacity="0.80"/><ellipse cx="29.2" cy="32.2" rx="7.6" ry="3.3" fill="rgb(20,20,20)" fill-opacity="0.80"/><ellipse cx="25.6" cy="37.3" rx="5.0" ry="5.2" fill="rgb(20,20,20)" fill-opacity="0.80"/><ellipse cx="21.4" cy="30.4" rx="7.2" ry="4.7" fill="rgb(20,20,20)" fill-opacity="0.80"/><ellipse cx="23.2" cy="36.1" rx="7.2" ry="5.7" fill="rgb(20,20,20)" fill-opacity="0.80"/><ellipse cx="26.8" cy="39.6" rx="7.7" ry="4.6" fill="rgb(20,20,20)" fill-opacity="0.80"/><ellipse cx="22.9" cy="32.7" rx="6.0" ry="4.5" fill="rgb(20,20,20)" fill-opacity="0.80"/><line x1="24.7" y1="33.4" x2="11.8" y2="25.7" stroke="rgb(20,20,20)" stroke-opacity="0.64" stroke-width="1.5" stroke-linecap="round"/><line x1="24.7" y1="33.4" x2="40.6" y2="31.0" stroke="rgb(20,20,20)" stroke-opacity="0.64" stroke-width="2.1" stroke-linecap="round"/><line x1="24.7" y1="33.4" x2="11.5" y2="40.7" stroke="rgb(20,20,20)" stroke-opacity="0.64" stroke-width="2.4" stroke-linecap="round"/><line x1="24.7" y1="33.4" x2="9.7" y2="28.6" stroke="rgb(20,20,20)" stroke-opacity="0.64" stroke-width="2.0" stroke-linecap="round"/><line x1="24.7" y1="33.4" x2="18.8" y2="21.8" stroke="rgb(20,20,20)" stroke-opacity="0.64" stroke-width="1.6" stroke-linecap="round"/><ellipse cx="27.7" cy="50.4" rx="6.5" ry="4.6" fill="rgb(20,20,20)" fill-opacity="0.80"/><ellipse cx="30.6" cy="53.8" rx="3.7" ry="3.4" fill="rgb(20,20,20)" fill-opacity="0.80"/><ellipse cx="34.0" cy="46.1" rx="4.9" ry="3.2" fill="rgb(20,20,20)" fill-opacity="0.80"/><ellipse cx="32.9" cy="54.5" rx="6.4" ry="2.7" fill="rgb(20,20,20)" fill-opacity="0.80"/><ellipse cx="31.1" cy="50.9" rx="3.9" ry="2.9" fill="rgb(20,20,20)" fill-opacity="0.80"/><line x1="31.0" y1="51.0" x2="25.7" y2="41.8" stroke="rgb(20,20,20)" stroke-opacity="0.64" stroke-width="1.9" stroke-linecap="round"/><line x1="31.0" y1="51.0" x2="22.6" y2="58.9" stroke="rgb(20,20,20)" stroke-opacity="0.64" stroke-width="2.2" stroke-linecap="round"/><line x1="31.0" y1="51.0" x2="41.9" y2="57.1" stroke="rgb(20,20,20)" stroke-opacity="0.64" stroke-width="2.3" stroke-linecap="round"/><line x1="31.0" y1="51.0" x2="40.9" y2="58.0" stroke="rgb(20,20,20)" stroke-opacity="0.64" stroke-width="2.1" stroke-linecap="round"/><line x1="31.0" y1="51.0" x2="31.0" y2="61.0" stroke="rgb(20,20,20)" stroke-opacity="0.64" stroke-width="1.7" stroke-linecap="round"/><ellipse cx="11.6" cy="23.7" rx="2.9" ry="3.0" fill="rgb(31,31,31)" fill-opacity="0.80"/><ellipse cx="13.0" cy="24.0" rx="2.5" ry="3.4" fill="rgb(31,31,31)" fill-opacity="0.80"/><ellipse cx="12.1" cy="22.0" rx="3.9" ry="3.4" fill="rgb(31,31,31)" fill-opacity="0.80"/><ellipse cx="14.6" cy="23.2" rx="3.7" ry="3.8" fill="rgb(31,31,31)" fill-opacity="0.80"/><line x1="13.9" y1="24.2" x2="21.0" y2="19.1" stroke="rgb(31,31,31)" stroke-opacity="0.64" stroke-width="1.8" stroke-linecap="round"/><line x1="13.9" y1="24.2" x2="10.4" y2="32.2" stroke="rgb(31,31,31)" stroke-opacity="0.64" stroke-width="2.5" stroke-linecap="round"/><line x1="13.9" y1="24.2" x2="15.6" y2="32.7" stroke="rgb(31,31,31)" stroke-opacity="0.64" stroke-width="2.6" stroke-linecap="round"/><line x1="13.9" y1="24.2" x2="20.5" y2="18.5" stroke="rgb(31,31,31)" stroke-opacity="0.64" stroke-width="1.6" stroke-linecap="round"/><line x1="13.9" y1="24.2" x2="14.4" y2="32.9" stroke="rgb(31,31,31)" stroke-opacity="0.64" stroke-width="2.3" stroke-linecap="round"/><ellipse cx="14.7" cy="62.7" rx="3.8" ry="2.6" fill="rgb(38,38,38)" fill-opacity="0.80"/><ellipse cx="14.9" cy="61.7" rx="2.9" ry="3.0" fill="rgb(38,38,38)" fill-opacity="0.80"/><ellipse cx="15.8" cy="62.4" rx="3.5" ry="3.4" fill="rgb(38,38,38)" fill-opacity="0.80"/><ellipse cx="15.3" cy="62.2" rx="3.2" ry="3.2" fill="rgb(38,38,38)" fill-opacity="0.80"/><line x1="14.8" y1="62.3" x2="6.0" y2="62.1" stroke="rgb(38,38,38)" stroke-opacity="0.64" stroke-width="2.3" stroke-linecap="round"/><line x1="14.8" y1="62.3" x2="18.0" y2="69.2" stroke="rgb(38,38,38)" stroke-opacity="0.64" stroke-width="1.6" stroke-linecap="round"/><line x1="14.8" y1="62.3" x2="21.6" y2="66.9" stroke="rgb(38,38,38)" stroke-opacity="0.64" stroke-width="1.5" stroke-linecap="round"/><line x1="14.8" y1="62.3" x2="6.5" y2="59.9" stroke="rgb(38,38,38)" stroke-opacity="0.64" stroke-width="2.1" stroke-linecap="round"/><line x1="14.8" y1="62.3" x2="6.8" y2="59.1" stroke="rgb(38,38,38)" stroke-opacity="0.64" stroke-width="1.7" stroke-linecap="round"/><ellipse cx="125.3" cy="46.5" rx="7.7" ry="6.0" fill="rgb(31,31,31)" fill-opacity="0.80"/><ellipse cx="125.3" cy="44.7" rx="4.5" ry="5.9" fill="rgb(31,31,31)" fill-opacity="0.80"/><ellipse cx="116.6" cy="46.4" rx="5.6" ry="4.4" fill="rgb(31,31,31)" fill-opacity="0.80"/><ellipse cx="119.9" cy="44.7" rx="6.7" ry="3.0" fill="rgb(31,31,31)" fill-opacity="0.80"/><ellipse cx="121.7" cy="39.0" rx="5.0" ry="4.4" fill="rgb(31,31,31)" fill-opacity="0.80"/><ellipse cx="124.1" cy="42.0" rx="5.0" ry="3.5" fill="rgb(31,31,31)" fill-opacity="0.80"/><ellipse cx="124.2" cy="45.0" rx="8.0" ry="5.4" fill="rgb(31,31,31)" fill-opacity="0.80"/><line x1="124.4" y1="45.1" x2="119.5" y2="33.1" stroke="rgb(31,31,31)" stroke-opacity="0.64" stroke-width="2.4" stroke-linecap="round"/><line x1="124.4" y1="45.1" x2="112.4" y2="36.0" stroke="rgb(31,31,31)" stroke-opacity="0.64" stroke-width="1.9" stroke-linecap="round"/><line x1="124.4" y1="45.1" x2="110.2" y2="37.7" stroke="rgb(31,31,31)" stroke-opacity="0.64" stroke-width="2.1" stroke-linecap="round"/><line x1="124.4" y1="45.1" x2="141.8" y2="43.7" stroke="rgb(31,31,31)" stroke-opacity="0.64" stroke-width="2.4" stroke-linecap="round"/><line x1="124.4" y1="45.1" x2="123.5" y2="57.5" stroke="rgb(31,31,31)" stroke-opacity="0.64" stroke-width="2.5" stroke-linecap="round"/><ellipse cx="157.9" cy="59.1" rx="3.3" ry="2.5" fill="rgb(20,20,20)" fill-opacity="0.80"/><ellipse cx="161.2" cy="60.2" rx="3.1" ry="3.2" fill="rgb(20,20,20)" fill-opacity="0.80"/><ellipse cx="158.2" cy="60.8" rx="3.1" ry="1.9" fill="rgb(20,20,20)" fill-opacity="0.80"/><line x1="158.0" y1="62.6" x2="154.0" y2="68.9" stroke="rgb(20,20,20)" stroke-opacity="0.64" stroke-width="2.0" stroke-linecap="round"/><line x1="158.0" y1="62.6" x2="165.5" y2="63.1" stroke="rgb(20,20,20)" stroke-opacity="0.64" stroke-width="1.9" stroke-linecap="round"/><line x1="158.0" y1="62.6" x2="153.2" y2="56.9" stroke="rgb(20,20,20)" stroke-opacity="0.64" stroke-width="2.2" stroke-linecap="round"/><line x1="158.0" y1="62.6" x2="158.9" y2="70.1" stroke="rgb(20,20,20)" stroke-opacity="0.64" stroke-width="2.5" stroke-linecap="round"/><line x1="158.0" y1="62.6" x2="154.3" y2="56.1" stroke="rgb(20,20,20)" stroke-opacity="0.64" stroke-width="1.9" stroke-linecap="round"/><ellipse cx="26.2" cy="167.6" rx="3.7" ry="2.5" fill="rgb(20,20,20)" fill-opacity="0.80"/><ellipse cx="31.9" cy="169.7" rx="4.1" ry="3.2" fill="rgb(20,20,20)" fill-opacity="0.80"/><ellipse cx="28.2" cy="169.7" rx="3.9" ry="3.1" fill="rgb(20,20,20)" fill-opacity="0.80"/><ellipse cx="27.9" cy="171.5" rx="2.5" ry="2.2" fill="rgb(20,20,20)" fill-opacity="0.80"/><line x1="28.0" y1="169.7" x2="20.9" y2="175.0" stroke="rgb(20,20,20)" stroke-opacity="0.64" stroke-width="1.6" stroke-linecap="round"/><line x1="28.0" y1="169.7" x2="28.0" y2="177.2" stroke="rgb(20,20,20)" stroke-opacity="0.64" stroke-width="2.5" stroke-linecap="round"/><line x1="28.0" y1="169.7" x2="18.5" y2="167.4" stroke="rgb(20,20,20)" stroke-opacity="0.64" stroke-width="2.1" stroke-linecap="round"/><line x1="28.0" y1="169.7" x2="37.8" y2="168.2" stroke="rgb(20,20,20)" stroke-opacity="0.64" stroke-width="2.1" stroke-linecap="round"/><line x1="28.0" y1="169.7" x2="38.0" y2="169.5" stroke="rgb(20,20,20)" stroke-opacity="0.64" stroke-width="2.2" stroke-linecap="round"/><ellipse cx="28.0" cy="193.6" rx="2.9" ry="2.6" fill="rgb(20,20,20)" fill-opacity="0.80"/><ellipse cx="31.9" cy="194.8" rx="2.1" ry="2.2" fill="rgb(20,20,20)" fill-opacity="0.80"/><ellipse cx="28.9" cy="195.5" rx="2.9" ry="1.6" fill="rgb(20,20,20)" fill-opacity="0.80"/><line x1="27.9" y1="193.8" x2="34.9" y2="191.7" stroke="rgb(20,20,20)" stroke-opacity="0.64" stroke-width="2.0" stroke-linecap="round"/><line x1="27.9" y1="193.8" x2="20.5" y2="192.8" stroke="rgb(20,20,20)" stroke-opacity="0.64" stroke-width="2.2" stroke-linecap="round"/><line x1="27.9" y1="193.8" x2="22.9" y2="198.5" stroke="rgb(20,20,20)" stroke-opacity="0.64" stroke-width="1.8" stroke-linecap="round"/><line x1="27.9" y1="193.8" x2="23.6" y2="188.7" stroke="rgb(20,20,20)" stroke-opacity="0.64" stroke-width="2.1" stroke-linecap="round"/><line x1="27.9" y1="193.8" x2="26.3" y2="199.9" stroke="rgb(20,20,20)" stroke-opacity="0.64" stroke-width="2.3" stroke-linecap="round"/><ellipse cx="75.5" cy="144.1" rx="2.2" ry="1.6" fill="rgb(26,26,26)" fill-opacity="0.80"/><ellipse cx="77.4" cy="146.4" rx="2.5" ry="2.8" fill="rgb(26,26,26)" fill-opacity="0.80"/><ellipse cx="75.5" cy="143.9" rx="3.6" ry="2.9" fill="rgb(26,26,26)" fill-opacity="0.80"/><line x1="75.5" y1="144.1" x2="82.2" y2="146.9" stroke="rgb(26,26,26)" stroke-opacity="0.64" stroke-width="2.5" stroke-linecap="round"/><line x1="75.5" y1="144.1" x2="68.7" y2="146.8" stroke="rgb(26,26,26)" stroke-opacity="0.64" stroke-width="2.0" stroke-linecap="round"/><line x1="75.5" y1="144.1" x2="82.9" y2="143.0" stroke="rgb(26,26,26)" stroke-opacity="0.64" stroke-width="1.8" stroke-linecap="round"/><line x1="75.5" y1="144.1" x2="68.1" y2="143.2" stroke="rgb(26,26,26)" stroke-opacity="0.64" stroke-width="2.5" stroke-linecap="round"/><line x1="75.5" y1="144.1" x2="74.2" y2="137.9" stroke="rgb(26,26,26)" stroke-opacity="0.64" stroke-width="2.0" stroke-linecap="round"/><ellipse cx="146.7" cy="189.9" rx="2.9" ry="1.7" fill="rgb(26,26,26)" fill-opacity="0.80"/><ellipse cx="141.6" cy="189.1" rx="2.2" ry="1.6" fill="rgb(26,26,26)" fill-opacity="0.80"/><ellipse cx="142.5" cy="190.2" rx="2.6" ry="2.5" fill="rgb(26,26,26)" fill-opacity="0.80"/><line x1="143.1" y1="190.3" x2="135.9" y2="192.0" stroke="rgb(26,26,26)" stroke-opacity="0.64" stroke-width="1.8" stroke-linecap="round"/><line x1="143.1" y1="190.3" x2="136.6" y2="187.2" stroke="rgb(26,26,26)" stroke-opacity="0.64" stroke-width="2.0" stroke-linecap="round"/><line x1="143.1" y1="190.3" x2="144.4" y2="184.1" stroke="rgb(26,26,26)" stroke-opacity="0.64" stroke-width="2.1" stroke-linecap="round"/><line x1="143.1" y1="190.3" x2="150.6" y2="190.2" stroke="rgb(26,26,26)" stroke-opacity="0.64" stroke-width="2.5" stroke-linecap="round"/><line x1="143.1" y1="190.3" x2="142.4" y2="184.0" stroke="rgb(26,26,26)" stroke-opacity="0.64" stroke-width="1.8" stroke-linecap="round"/><ellipse cx="115.7" cy="117.5" rx="4.3" ry="2.4" fill="rgb(31,31,31)" fill-opacity="0.80"/><ellipse cx="110.6" cy="116.1" rx="4.0" ry="2.3" fill="rgb(31,31,31)" fill-opacity="0.80"/><ellipse cx="108.4" cy="114.0" rx="4.2" ry="1.8" fill="rgb(31,31,31)" fill-opacity="0.80"/><line x1="111.6" y1="115.3" x2="111.7" y2="121.5" stroke="rgb(31,31,31)" stroke-opacity="0.64" stroke-width="2.6" stroke-linecap="round"/><line x1="111.6" y1="115.3" x2="120.3" y2="112.1" stroke="rgb(31,31,31)" stroke-opacity="0.64" stroke-width="2.5" stroke-linecap="round"/><line x1="111.6" y1="115.3" x2="121.3" y2="116.8" stroke="rgb(31,31,31)" stroke-opacity="0.64" stroke-width="1.6" stroke-linecap="round"/><line x1="111.6" y1="115.3" x2="110.3" y2="121.5" stroke="rgb(31,31,31)" stroke-opacity="0.64" stroke-width="2.0" stroke-linecap="round"/><line x1="111.6" y1="115.3" x2="104.5" y2="110.9" stroke="rgb(31,31,31)" stroke-opacity="0.64" stroke-width="1.6" stroke-linecap="round"/><ellipse cx="136.8" cy="318.1" rx="2.6" ry="4.0" fill="rgb(13,13,13)" fill-opacity="0.80"/><ellipse cx="133.7" cy="317.0" rx="3.3" ry="3.5" fill="rgb(13,13,13)" fill-opacity="0.80"/><ellipse cx="137.8" cy="320.2" rx="4.2" ry="4.4" fill="rgb(13,13,13)" fill-opacity="0.80"/><ellipse cx="137.9" cy="318.6" rx="4.3" ry="3.9" fill="rgb(13,13,13)" fill-opacity="0.80"/><ellipse cx="137.4" cy="317.0" rx="3.4" ry="3.0" fill="rgb(13,13,13)" fill-opacity="0.80"/><line x1="137.3" y1="318.2" x2="140.9" y2="308.9" stroke="rgb(13,13,13)" stroke-opacity="0.64" stroke-width="1.9" stroke-linecap="round"/><line x1="137.3" y1="318.2" x2="131.6" y2="310.0" stroke="rgb(13,13,13)" stroke-opacity="0.64" stroke-width="2.6" stroke-linecap="round"/><line x1="137.3" y1="318.2" x2="132.7" y2="327.1" stroke="rgb(13,13,13)" stroke-opacity="0.64" stroke-width="2.1" stroke-linecap="round"/><line x1="137.3" y1="318.2" x2="137.0" y2="308.2" stroke="rgb(13,13,13)" stroke-opacity="0.64" stroke-width="2.5" stroke-linecap="round"/><line x1="137.3" y1="318.2" x2="128.3" y2="322.6" stroke="rgb(13,13,13)" stroke-opacity="0.64" stroke-width="1.9" stroke-linecap="round"/><ellipse cx="165.9" cy="329.3" rx="2.3" ry="1.6" fill="rgb(20,20,20)" fill-opacity="0.80"/><ellipse cx="159.8" cy="326.7" rx="3.5" ry="1.9" fill="rgb(20,20,20)" fill-opacity="0.80"/><ellipse cx="162.2" cy="327.1" rx="2.5" ry="2.5" fill="rgb(20,20,20)" fill-opacity="0.80"/><line x1="162.2" y1="327.4" x2="169.8" y2="330.5" stroke="rgb(20,20,20)" stroke-opacity="0.64" stroke-width="1.8" stroke-linecap="round"/><line x1="162.2" y1="327.4" x2="160.8" y2="321.2" stroke="rgb(20,20,20)" stroke-opacity="0.64" stroke-width="2.3" stroke-linecap="round"/><line x1="162.2" y1="327.4" x2="160.4" y2="333.5" stroke="rgb(20,20,20)" stroke-opacity="0.64" stroke-width="1.7" stroke-linecap="round"/><line x1="162.2" y1="327.4" x2="156.7" y2="332.3" stroke="rgb(20,20,20)" stroke-opacity="0.64" stroke-width="2.3" stroke-linecap="round"/><line x1="162.2" y1="327.4" x2="156.3" y2="332.1" stroke="rgb(20,20,20)" stroke-opacity="0.64" stroke-width="1.6" stroke-linecap="round"/><ellipse cx="154.5" cy="259.6" rx="3.5" ry="2.9" fill="rgb(20,20,20)" fill-opacity="0.80"/><ellipse cx="156.8" cy="260.8" rx="3.2" ry="2.0" fill="rgb(20,20,20)" fill-opacity="0.80"/><ellipse cx="154.4" cy="263.0" rx="3.5" ry="2.8" fill="rgb(20,20,20)" fill-opacity="0.80"/><line x1="155.1" y1="261.7" x2="155.2" y2="267.9" stroke="rgb(20,20,20)" stroke-opacity="0.64" stroke-width="1.9" stroke-linecap="round"/><line x1="155.1" y1="261.7" x2="150.1" y2="266.3" stroke="rgb(20,20,20)" stroke-opacity="0.64" stroke-width="1.9" stroke-linecap="round"/><line x1="155.1" y1="261.7" x2="149.2" y2="265.5" stroke="rgb(20,20,20)" stroke-opacity="0.64" stroke-width="1.9" stroke-linecap="round"/><line x1="155.1" y1="261.7" x2="157.7" y2="267.5" stroke="rgb(20,20,20)" stroke-opacity="0.64" stroke-width="2.1" stroke-linecap="round"/><line x1="155.1" y1="261.7" x2="157.3" y2="255.7" stroke="rgb(20,20,20)" stroke-opacity="0.64" stroke-width="2.1" stroke-linecap="round"/><ellipse cx="48.4" cy="219.7" rx="2.1" ry="2.6" fill="rgb(20,20,20)" fill-opacity="0.80"/><ellipse cx="48.1" cy="220.8" rx="1.8" ry="2.3" fill="rgb(20,20,20)" fill-opacity="0.80"/><ellipse cx="44.7" cy="220.9" rx="3.5" ry="2.5" fill="rgb(20,20,20)" fill-opacity="0.80"/><line x1="47.1" y1="221.5" x2="49.6" y2="215.6" stroke="rgb(20,20,20)" stroke-opacity="0.64" stroke-width="1.6" stroke-linecap="round"/><line x1="47.1" y1="221.5" x2="40.0" y2="219.7" stroke="rgb(20,20,20)" stroke-opacity="0.64" stroke-width="2.4" stroke-linecap="round"/><line x1="47.1" y1="221.5" x2="53.6" y2="224.7" stroke="rgb(20,20,20)" stroke-opacity="0.64" stroke-width="1.6" stroke-linecap="round"/><line x1="47.1" y1="221.5" x2="46.5" y2="215.3" stroke="rgb(20,20,20)" stroke-opacity="0.64" stroke-width="2.5" stroke-linecap="round"/><line x1="47.1" y1="221.5" x2="53.6" y2="224.7" stroke="rgb(20,20,20)" stroke-opacity="0.64" stroke-width="2.2" stroke-linecap="round"/><ellipse cx="30.0" cy="312.8" rx="3.5" ry="3.0" fill="rgb(20,20,20)" fill-opacity="0.80"/><ellipse cx="28.4" cy="313.8" rx="3.2" ry="4.2" fill="rgb(20,20,20)" fill-opacity="0.80"/><ellipse cx="26.2" cy="310.6" rx="4.1" ry="4.0" fill="rgb(20,20,20)" fill-opacity="0.80"/><ellipse cx="24.8" cy="309.5" rx="3.6" ry="4.1" fill="rgb(20,20,20)" fill-opacity="0.80"/><line x1="27.6" y1="309.3" x2="35.2" y2="304.2" stroke="rgb(20,20,20)" stroke-opacity="0.64" stroke-width="2.0" stroke-linecap="round"/><line x1="27.6" y1="309.3" x2="31.7" y2="300.5" stroke="rgb(20,20,20)" stroke-opacity="0.64" stroke-width="2.2" stroke-linecap="round"/><line x1="27.6" y1="309.3" x2="32.9" y2="301.4" stroke="rgb(20,20,20)" stroke-opacity="0.64" stroke-width="2.4" stroke-linecap="round"/><line x1="27.6" y1="309.3" x2="32.0" y2="300.7" stroke="rgb(20,20,20)" stroke-opacity="0.64" stroke-width="2.5" stroke-linecap="round"/><line x1="27.6" y1="309.3" x2="36.1" y2="306.7" stroke="rgb(20,20,20)" stroke-opacity="0.64" stroke-width="2.2" stroke-linecap="round"/><ellipse cx="36.6" cy="262.8" rx="3.2" ry="2.1" fill="rgb(20,20,20)" fill-opacity="0.80"/><ellipse cx="39.2" cy="263.5" rx="3.1" ry="3.0" fill="rgb(20,20,20)" fill-opacity="0.80"/><ellipse cx="39.2" cy="263.7" rx="2.2" ry="2.1" fill="rgb(20,20,20)" fill-opacity="0.80"/><line x1="39.7" y1="263.2" x2="37.8" y2="269.3" stroke="rgb(20,20,20)" stroke-opacity="0.64" stroke-width="2.6" stroke-linecap="round"/><line x1="39.7" y1="263.2" x2="46.7" y2="265.5" stroke="rgb(20,20,20)" stroke-opacity="0.64" stroke-width="1.8" stroke-linecap="round"/><line x1="39.7" y1="263.2" x2="45.4" y2="267.4" stroke="rgb(20,20,20)" stroke-opacity="0.64" stroke-width="2.2" stroke-linecap="round"/><line x1="39.7" y1="263.2" x2="40.9" y2="257.1" stroke="rgb(20,20,20)" stroke-opacity="0.64" stroke-width="1.7" stroke-linecap="round"/><line x1="39.7" y1="263.2" x2="46.7" y2="265.6" stroke="rgb(20,20,20)" stroke-opacity="0.64" stroke-width="2.0" stroke-linecap="round"/><ellipse cx="170.6" cy="196.8" rx="3.1" ry="2.0" fill="rgb(26,26,26)" fill-opacity="0.80"/><ellipse cx="177.2" cy="199.7" rx="3.7" ry="3.1" fill="rgb(26,26,26)" fill-opacity="0.80"/><ellipse cx="175.1" cy="198.3" rx="3.6" ry="2.3" fill="rgb(26,26,26)" fill-opacity="0.80"/><ellipse cx="179.2" cy="201.8" rx="3.9" ry="2.8" fill="rgb(26,26,26)" fill-opacity="0.80"/><line x1="176.5" y1="198.8" x2="181.7" y2="192.0" stroke="rgb(26,26,26)" stroke-opacity="0.64" stroke-width="2.0" stroke-linecap="round"/><line x1="176.5" y1="198.8" x2="175.7" y2="206.3" stroke="rgb(26,26,26)" stroke-opacity="0.64" stroke-width="2.5" stroke-linecap="round"/><line x1="176.5" y1="198.8" x2="187.3" y2="195.0" stroke="rgb(26,26,26)" stroke-opacity="0.64" stroke-width="1.9" stroke-linecap="round"/><line x1="176.5" y1="198.8" x2="164.6" y2="196.6" stroke="rgb(26,26,26)" stroke-opacity="0.64" stroke-width="2.6" stroke-linecap="round"/><line x1="176.5" y1="198.8" x2="164.1" y2="199.6" stroke="rgb(26,26,26)" stroke-opacity="0.64" stroke-width="1.7" stroke-linecap="round"/><ellipse cx="22.8" cy="256.0" rx="2.7" ry="2.5" fill="rgb(26,26,26)" fill-opacity="0.80"/><ellipse cx="17.5" cy="254.3" rx="1.9" ry="3.6" fill="rgb(26,26,26)" fill-opacity="0.80"/><ellipse cx="18.9" cy="253.8" rx="1.5" ry="2.7" fill="rgb(26,26,26)" fill-opacity="0.80"/><line x1="19.4" y1="254.7" x2="15.1" y2="260.1" stroke="rgb(26,26,26)" stroke-opacity="0.64" stroke-width="2.4" stroke-linecap="round"/><line x1="19.4" y1="254.7" x2="18.0" y2="247.4" stroke="rgb(26,26,26)" stroke-opacity="0.64" stroke-width="2.2" stroke-linecap="round"/><line x1="19.4" y1="254.7" x2="22.8" y2="261.0" stroke="rgb(26,26,26)" stroke-opacity="0.64" stroke-width="1.7" stroke-linecap="round"/><line x1="19.4" y1="254.7" x2="16.7" y2="261.5" stroke="rgb(26,26,26)" stroke-opacity="0.64" stroke-width="1.8" stroke-linecap="round"/><line x1="19.4" y1="254.7" x2="23.7" y2="249.2" stroke="rgb(26,26,26)" stroke-opacity="0.64" stroke-width="2.1" stroke-linecap="round"/><ellipse cx="177.5" cy="377.9" rx="2.3" ry="2.8" fill="rgb(26,26,26)" fill-opacity="0.80"/><ellipse cx="182.5" cy="384.1" rx="1.8" ry="3.3" fill="rgb(26,26,26)" fill-opacity="0.80"/><ellipse cx="182.5" cy="378.2" rx="1.9" ry="2.3" fill="rgb(26,26,26)" fill-opacity="0.80"/><line x1="180.4" y1="381.3" x2="178.9" y2="374.0" stroke="rgb(26,26,26)" stroke-opacity="0.64" stroke-width="1.6" stroke-linecap="round"/><line x1="180.4" y1="381.3" x2="173.0" y2="382.2" stroke="rgb(26,26,26)" stroke-opacity="0.64" stroke-width="2.0" stroke-linecap="round"/><line x1="180.4" y1="381.3" x2="187.6" y2="379.2" stroke="rgb(26,26,26)" stroke-opacity="0.64" stroke-width="2.1" stroke-linecap="round"/><line x1="180.4" y1="381.3" x2="185.1" y2="375.4" stroke="rgb(26,26,26)" stroke-opacity="0.64" stroke-width="1.8" stroke-linecap="round"/><line x1="180.4" y1="381.3" x2="182.3" y2="374.0" stroke="rgb(26,26,26)" stroke-opacity="0.64" stroke-width="2.0" stroke-linecap="round"/><ellipse cx="9.9" cy="363.7" rx="2.7" ry="1.8" fill="rgb(26,26,26)" fill-opacity="0.80"/><ellipse cx="7.7" cy="363.4" rx="1.7" ry="2.7" fill="rgb(26,26,26)" fill-opacity="0.80"/><ellipse cx="9.2" cy="365.0" rx="1.6" ry="2.0" fill="rgb(26,26,26)" fill-opacity="0.80"/><line x1="9.6" y1="363.9" x2="3.5" y2="365.2" stroke="rgb(26,26,26)" stroke-opacity="0.64" stroke-width="2.3" stroke-linecap="round"/><line x1="9.6" y1="363.9" x2="5.6" y2="368.7" stroke="rgb(26,26,26)" stroke-opacity="0.64" stroke-width="2.3" stroke-linecap="round"/><line x1="9.6" y1="363.9" x2="14.5" y2="367.7" stroke="rgb(26,26,26)" stroke-opacity="0.64" stroke-width="1.9" stroke-linecap="round"/><line x1="9.6" y1="363.9" x2="3.5" y2="365.4" stroke="rgb(26,26,26)" stroke-opacity="0.64" stroke-width="2.6" stroke-linecap="round"/><line x1="9.6" y1="363.9" x2="12.6" y2="358.4" stroke="rgb(26,26,26)" stroke-opacity="0.64" stroke-width="2.2" stroke-linecap="round"/><ellipse cx="8.4" cy="381.1" rx="6.0" ry="9.0" fill="rgb(204,204,204)" fill-opacity="0.80"/><ellipse cx="102.7" cy="288.7" rx="22.0" ry="14.0" fill="rgb(184,184,184)" fill-opacity="0.80"/></g></g><polygon points="605.5,212 619,212 615,282 610,350 595.3,350" fill="rgb(50,155,237)" fill-opacity="0.38" filter="url(#soft)"/></g>
<g stroke="#bdbdbd" stroke-opacity="0.10" stroke-width="0.7"><line x1="154.2" y1="19.4" x2="154.2" y2="482.0"/><line x1="21.7" y1="92.9" x2="264.6" y2="92.9"/><line x1="21.7" y1="314.9" x2="264.6" y2="314.9"/></g>
<g stroke="#bdbdbd" stroke-opacity="0.10" stroke-width="0.7"><line x1="433.6" y1="20.7" x2="433.6" y2="481.5"/><line x1="301.5" y1="93.4" x2="543.8" y2="93.4"/><line x1="301.5" y1="314.7" x2="543.8" y2="314.7"/></g>
<g stroke="#bdbdbd" stroke-opacity="0.10" stroke-width="0.7"><line x1="712.5" y1="20.7" x2="712.5" y2="481.5"/><line x1="580.7" y1="93.4" x2="822.8" y2="93.4"/><line x1="580.7" y1="314.7" x2="822.8" y2="314.7"/></g>
<rect x="21.7" y="19.4" width="242.9" height="462.6" fill="none" stroke="#444" stroke-width="1.4"/>
<g stroke="#333" stroke-width="1.1">
<line x1="154.2" y1="16.4" x2="154.2" y2="19.4"/>
<line x1="154.2" y1="482.0" x2="154.2" y2="485.0"/>
<line x1="18.9" y1="92.9" x2="21.7" y2="92.9"/>
<line x1="264.6" y1="92.9" x2="267.4" y2="92.9"/>
<line x1="18.9" y1="314.9" x2="21.7" y2="314.9"/>
<line x1="264.6" y1="314.9" x2="267.4" y2="314.9"/>
</g>
<text x="154.2" y="15.0" font-size="9" stroke="#222" stroke-width="0.15" text-anchor="middle" textLength="37.4" lengthAdjust="spacingAndGlyphs">108°1'16"E</text>
<text x="154.2" y="493.2" font-size="9" stroke="#222" stroke-width="0.15" text-anchor="middle" textLength="37.4" lengthAdjust="spacingAndGlyphs">108°1'16"E</text>
<text transform="translate(17.3 92.9) rotate(-90)" font-size="9" stroke="#222" stroke-width="0.15" text-anchor="middle" textLength="39.8" lengthAdjust="spacingAndGlyphs">34°18'16"N</text>
<text transform="translate(276.3 92.9) rotate(-90)" font-size="9" stroke="#222" stroke-width="0.15" text-anchor="middle" textLength="39.8" lengthAdjust="spacingAndGlyphs">34°18'16"N</text>
<text transform="translate(17.3 314.9) rotate(-90)" font-size="9" stroke="#222" stroke-width="0.15" text-anchor="middle" textLength="39.8" lengthAdjust="spacingAndGlyphs">34°18'14"N</text>
<text transform="translate(276.3 314.9) rotate(-90)" font-size="9" stroke="#222" stroke-width="0.15" text-anchor="middle" textLength="39.8" lengthAdjust="spacingAndGlyphs">34°18'14"N</text>
<path d="M31.0 56.6 L38.3 31.9" stroke="#777" stroke-width="0.6" fill="none"/>
<path d="M38.3 31.9 L47.8 57.2 L38.8 54.8" stroke="#111" stroke-width="1.1" fill="none" stroke-linejoin="miter"/>
<path d="M38.8 54.8 L31.0 56.6" stroke="#111" stroke-width="1.7" fill="none"/>
<text class="sans" x="39.5" y="67.8" font-size="10.3" text-anchor="middle" fill="#111" stroke="#111" stroke-width="0.35">N</text>
<text x="28.0" y="448.4" font-size="12.3">LAI</text>
<rect x="27.60" y="456.1" width="16.40" height="8.1" fill="#0a1ee0" stroke="#6a7a8a" stroke-width="0.4"/>
<rect x="44.00" y="456.1" width="16.40" height="8.1" fill="#2d55e8" stroke="#6a7a8a" stroke-width="0.4"/>
<rect x="60.40" y="456.1" width="16.40" height="8.1" fill="#2e8feb" stroke="#6a7a8a" stroke-width="0.4"/>
<rect x="76.80" y="456.1" width="16.40" height="8.1" fill="#22cdf0" stroke="#6a7a8a" stroke-width="0.4"/>
<rect x="93.20" y="456.1" width="16.40" height="8.1" fill="#25e8d5" stroke="#6a7a8a" stroke-width="0.4"/>
<rect x="109.60" y="456.1" width="16.40" height="8.1" fill="#30e08f" stroke="#6a7a8a" stroke-width="0.4"/>
<rect x="126.00" y="456.1" width="16.40" height="8.1" fill="#30d558" stroke="#6a7a8a" stroke-width="0.4"/>
<rect x="142.40" y="456.1" width="16.40" height="8.1" fill="#1ec41e" stroke="#6a7a8a" stroke-width="0.4"/>
<text x="27.6" y="478.9" font-size="11.6" text-anchor="middle" textLength="5.4" lengthAdjust="spacingAndGlyphs">0</text>
<text x="44.0" y="478.9" font-size="11.6" text-anchor="middle" textLength="13.5" lengthAdjust="spacingAndGlyphs">0.3</text>
<text x="60.4" y="478.9" font-size="11.6" text-anchor="middle" textLength="13.5" lengthAdjust="spacingAndGlyphs">0.6</text>
<text x="76.8" y="478.9" font-size="11.6" text-anchor="middle" textLength="13.5" lengthAdjust="spacingAndGlyphs">0.9</text>
<text x="93.2" y="478.9" font-size="11.6" text-anchor="middle" textLength="13.5" lengthAdjust="spacingAndGlyphs">1.2</text>
<text x="109.6" y="478.9" font-size="11.6" text-anchor="middle" textLength="13.5" lengthAdjust="spacingAndGlyphs">1.5</text>
<text x="126.0" y="478.9" font-size="11.6" text-anchor="middle" textLength="13.5" lengthAdjust="spacingAndGlyphs">1.8</text>
<text x="142.4" y="478.9" font-size="11.6" text-anchor="middle" textLength="13.5" lengthAdjust="spacingAndGlyphs">2.1</text>
<text x="158.8" y="478.9" font-size="11.6" text-anchor="middle" textLength="13.5" lengthAdjust="spacingAndGlyphs">2.4</text>
<path d="M174.5 456.5 V464.2 H246.7 V456.5 M210.2 456.5 V464.2 M192.4 459.1 V464.2 M228.3 459.1 V464.2" stroke="#4a4a4a" stroke-width="0.9" fill="none"/>
<text x="174.5" y="478.9" font-size="11.6" text-anchor="middle" textLength="5.4" lengthAdjust="spacingAndGlyphs">0</text>
<text x="192.4" y="478.9" font-size="11.6" text-anchor="middle" textLength="5.4" lengthAdjust="spacingAndGlyphs">5</text>
<text x="210.2" y="478.9" font-size="11.6" text-anchor="middle" textLength="10.8" lengthAdjust="spacingAndGlyphs">10</text>
<text x="240.3" y="478.9" font-size="11.6" text-anchor="start" textLength="21.9" lengthAdjust="spacingAndGlyphs">20 m</text>
<text x="139.5" y="513.0" font-size="15.5" text-anchor="middle" fill="#111">(<tspan font-weight="bold">a</tspan>)</text>
<rect x="301.5" y="20.7" width="242.3" height="460.8" fill="none" stroke="#444" stroke-width="1.4"/>
<g stroke="#333" stroke-width="1.1">
<line x1="433.6" y1="17.7" x2="433.6" y2="20.7"/>
<line x1="433.6" y1="481.5" x2="433.6" y2="484.5"/>
<line x1="298.7" y1="93.4" x2="301.5" y2="93.4"/>
<line x1="543.8" y1="93.4" x2="546.6" y2="93.4"/>
<line x1="298.7" y1="314.7" x2="301.5" y2="314.7"/>
<line x1="543.8" y1="314.7" x2="546.6" y2="314.7"/>
</g>
<text x="433.6" y="15.9" font-size="9" stroke="#222" stroke-width="0.15" text-anchor="middle" textLength="37.4" lengthAdjust="spacingAndGlyphs">108°1'16"E</text>
<text x="433.6" y="493.2" font-size="9" stroke="#222" stroke-width="0.15" text-anchor="middle" textLength="37.4" lengthAdjust="spacingAndGlyphs">108°1'16"E</text>
<text transform="translate(296.9 93.4) rotate(-90)" font-size="9" stroke="#222" stroke-width="0.15" text-anchor="middle" textLength="39.8" lengthAdjust="spacingAndGlyphs">34°18'16"N</text>
<text transform="translate(555.6 93.4) rotate(-90)" font-size="9" stroke="#222" stroke-width="0.15" text-anchor="middle" textLength="39.8" lengthAdjust="spacingAndGlyphs">34°18'16"N</text>
<text transform="translate(296.9 314.7) rotate(-90)" font-size="9" stroke="#222" stroke-width="0.15" text-anchor="middle" textLength="39.8" lengthAdjust="spacingAndGlyphs">34°18'14"N</text>
<text transform="translate(555.6 314.7) rotate(-90)" font-size="9" stroke="#222" stroke-width="0.15" text-anchor="middle" textLength="39.8" lengthAdjust="spacingAndGlyphs">34°18'14"N</text>
<path d="M310.7 57.8 L318.4 32.4" stroke="#777" stroke-width="0.6" fill="none"/>
<path d="M318.4 32.4 L327.2 58.4 L318.6 55.6" stroke="#111" stroke-width="1.1" fill="none" stroke-linejoin="miter"/>
<path d="M318.6 55.6 L310.7 57.8" stroke="#111" stroke-width="1.7" fill="none"/>
<text class="sans" x="319.2" y="68.8" font-size="10.3" text-anchor="middle" fill="#111" stroke="#111" stroke-width="0.35">N</text>
<text x="307.9" y="447.6" font-size="12.3">LAI</text>
<rect x="307.10" y="455.7" width="16.40" height="7.9" fill="#0a1ee0" stroke="#6a7a8a" stroke-width="0.4"/>
<rect x="323.50" y="455.7" width="16.40" height="7.9" fill="#2d55e8" stroke="#6a7a8a" stroke-width="0.4"/>
<rect x="339.90" y="455.7" width="16.40" height="7.9" fill="#2e8feb" stroke="#6a7a8a" stroke-width="0.4"/>
<rect x="356.30" y="455.7" width="16.40" height="7.9" fill="#22cdf0" stroke="#6a7a8a" stroke-width="0.4"/>
<rect x="372.70" y="455.7" width="16.40" height="7.9" fill="#25e8d5" stroke="#6a7a8a" stroke-width="0.4"/>
<rect x="389.10" y="455.7" width="16.40" height="7.9" fill="#30e08f" stroke="#6a7a8a" stroke-width="0.4"/>
<rect x="405.50" y="455.7" width="16.40" height="7.9" fill="#30d558" stroke="#6a7a8a" stroke-width="0.4"/>
<rect x="421.90" y="455.7" width="16.40" height="7.9" fill="#1ec41e" stroke="#6a7a8a" stroke-width="0.4"/>
<text x="307.1" y="478.2" font-size="11.6" text-anchor="middle" textLength="5.4" lengthAdjust="spacingAndGlyphs">0</text>
<text x="323.5" y="478.2" font-size="11.6" text-anchor="middle" textLength="13.5" lengthAdjust="spacingAndGlyphs">0.4</text>
<text x="339.9" y="478.2" font-size="11.6" text-anchor="middle" textLength="13.5" lengthAdjust="spacingAndGlyphs">0.8</text>
<text x="356.3" y="478.2" font-size="11.6" text-anchor="middle" textLength="13.5" lengthAdjust="spacingAndGlyphs">1.2</text>
<text x="372.7" y="478.2" font-size="11.6" text-anchor="middle" textLength="13.5" lengthAdjust="spacingAndGlyphs">1.6</text>
<text x="389.1" y="478.2" font-size="11.6" text-anchor="middle" textLength="13.5" lengthAdjust="spacingAndGlyphs">2.0</text>
<text x="405.5" y="478.2" font-size="11.6" text-anchor="middle" textLength="13.5" lengthAdjust="spacingAndGlyphs">2.4</text>
<text x="421.9" y="478.2" font-size="11.6" text-anchor="middle" textLength="13.5" lengthAdjust="spacingAndGlyphs">2.8</text>
<text x="438.3" y="478.2" font-size="11.6" text-anchor="middle" textLength="13.5" lengthAdjust="spacingAndGlyphs">3.2</text>
<path d="M453.4 456.1 V463.6 H525.2 V456.1 M489.3 456.1 V463.6 M471.6 458.7 V463.6 M507.4 458.7 V463.6" stroke="#4a4a4a" stroke-width="0.9" fill="none"/>
<text x="453.4" y="478.2" font-size="11.6" text-anchor="middle" textLength="5.4" lengthAdjust="spacingAndGlyphs">0</text>
<text x="471.6" y="478.2" font-size="11.6" text-anchor="middle" textLength="5.4" lengthAdjust="spacingAndGlyphs">5</text>
<text x="489.3" y="478.2" font-size="11.6" text-anchor="middle" textLength="10.8" lengthAdjust="spacingAndGlyphs">10</text>
<text x="520.3" y="478.2" font-size="11.6" text-anchor="start" textLength="21.9" lengthAdjust="spacingAndGlyphs">20 m</text>
<text x="419.0" y="513.0" font-size="15.5" text-anchor="middle" fill="#111">(<tspan font-weight="bold">b</tspan>)</text>
<rect x="580.7" y="20.7" width="242.1" height="460.8" fill="none" stroke="#444" stroke-width="1.4"/>
<g stroke="#333" stroke-width="1.1">
<line x1="712.5" y1="17.7" x2="712.5" y2="20.7"/>
<line x1="712.5" y1="481.5" x2="712.5" y2="484.5"/>
<line x1="577.9" y1="93.4" x2="580.7" y2="93.4"/>
<line x1="822.8" y1="93.4" x2="825.6" y2="93.4"/>
<line x1="577.9" y1="314.7" x2="580.7" y2="314.7"/>
<line x1="822.8" y1="314.7" x2="825.6" y2="314.7"/>
</g>
<text x="712.5" y="15.9" font-size="9" stroke="#222" stroke-width="0.15" text-anchor="middle" textLength="37.4" lengthAdjust="spacingAndGlyphs">108°1'16"E</text>
<text x="712.5" y="493.2" font-size="9" stroke="#222" stroke-width="0.15" text-anchor="middle" textLength="37.4" lengthAdjust="spacingAndGlyphs">108°1'16"E</text>
<text transform="translate(576.2 93.4) rotate(-90)" font-size="9" stroke="#222" stroke-width="0.15" text-anchor="middle" textLength="39.8" lengthAdjust="spacingAndGlyphs">34°18'16"N</text>
<text transform="translate(834.4 93.4) rotate(-90)" font-size="9" stroke="#222" stroke-width="0.15" text-anchor="middle" textLength="39.8" lengthAdjust="spacingAndGlyphs">34°18'16"N</text>
<text transform="translate(576.2 314.7) rotate(-90)" font-size="9" stroke="#222" stroke-width="0.15" text-anchor="middle" textLength="39.8" lengthAdjust="spacingAndGlyphs">34°18'14"N</text>
<text transform="translate(834.4 314.7) rotate(-90)" font-size="9" stroke="#222" stroke-width="0.15" text-anchor="middle" textLength="39.8" lengthAdjust="spacingAndGlyphs">34°18'14"N</text>
<path d="M589.5 57.8 L597.3 32.4" stroke="#777" stroke-width="0.6" fill="none"/>
<path d="M597.3 32.4 L606.3 58.3 L597.6 55.7" stroke="#111" stroke-width="1.1" fill="none" stroke-linejoin="miter"/>
<path d="M597.6 55.7 L589.5 57.8" stroke="#111" stroke-width="1.7" fill="none"/>
<text class="sans" x="598.3" y="68.8" font-size="10.3" text-anchor="middle" fill="#111" stroke="#111" stroke-width="0.35">N</text>
<text x="587.0" y="447.6" font-size="12.3">LAI</text>
<rect x="586.40" y="455.7" width="16.40" height="7.9" fill="#0a1ee0" stroke="#6a7a8a" stroke-width="0.4"/>
<rect x="602.80" y="455.7" width="16.40" height="7.9" fill="#2d55e8" stroke="#6a7a8a" stroke-width="0.4"/>
<rect x="619.20" y="455.7" width="16.40" height="7.9" fill="#2e8feb" stroke="#6a7a8a" stroke-width="0.4"/>
<rect x="635.60" y="455.7" width="16.40" height="7.9" fill="#22cdf0" stroke="#6a7a8a" stroke-width="0.4"/>
<rect x="652.00" y="455.7" width="16.40" height="7.9" fill="#25e8d5" stroke="#6a7a8a" stroke-width="0.4"/>
<rect x="668.40" y="455.7" width="16.40" height="7.9" fill="#30e08f" stroke="#6a7a8a" stroke-width="0.4"/>
<rect x="684.80" y="455.7" width="16.40" height="7.9" fill="#30d558" stroke="#6a7a8a" stroke-width="0.4"/>
<rect x="701.20" y="455.7" width="16.40" height="7.9" fill="#1ec41e" stroke="#6a7a8a" stroke-width="0.4"/>
<text x="586.4" y="478.2" font-size="11.6" text-anchor="middle" textLength="5.4" lengthAdjust="spacingAndGlyphs">0</text>
<text x="602.8" y="478.2" font-size="11.6" text-anchor="middle" textLength="13.5" lengthAdjust="spacingAndGlyphs">0.5</text>
<text x="619.2" y="478.2" font-size="11.6" text-anchor="middle" textLength="13.5" lengthAdjust="spacingAndGlyphs">1.0</text>
<text x="635.6" y="478.2" font-size="11.6" text-anchor="middle" textLength="13.5" lengthAdjust="spacingAndGlyphs">1.5</text>
<text x="652.0" y="478.2" font-size="11.6" text-anchor="middle" textLength="13.5" lengthAdjust="spacingAndGlyphs">2.0</text>
<text x="668.4" y="478.2" font-size="11.6" text-anchor="middle" textLength="13.5" lengthAdjust="spacingAndGlyphs">2.5</text>
<text x="684.8" y="478.2" font-size="11.6" text-anchor="middle" textLength="13.5" lengthAdjust="spacingAndGlyphs">3.0</text>
<text x="701.2" y="478.2" font-size="11.6" text-anchor="middle" textLength="13.5" lengthAdjust="spacingAndGlyphs">3.5</text>
<text x="717.6" y="478.2" font-size="11.6" text-anchor="middle" textLength="13.5" lengthAdjust="spacingAndGlyphs">4.0</text>
<path d="M732.4 456.1 V463.6 H804.4 V456.1 M768.5 456.1 V463.6 M750.4 458.7 V463.6 M786.3 458.7 V463.6" stroke="#4a4a4a" stroke-width="0.9" fill="none"/>
<text x="732.4" y="478.2" font-size="11.6" text-anchor="middle" textLength="5.4" lengthAdjust="spacingAndGlyphs">0</text>
<text x="750.4" y="478.2" font-size="11.6" text-anchor="middle" textLength="5.4" lengthAdjust="spacingAndGlyphs">5</text>
<text x="768.5" y="478.2" font-size="11.6" text-anchor="middle" textLength="10.8" lengthAdjust="spacingAndGlyphs">10</text>
<text x="798.7" y="478.2" font-size="11.6" text-anchor="start" textLength="21.9" lengthAdjust="spacingAndGlyphs">20 m</text>
<text x="698.0" y="513.0" font-size="15.5" text-anchor="middle" fill="#111">(<tspan font-weight="bold">c</tspan>)</text>
</svg></body></html>
